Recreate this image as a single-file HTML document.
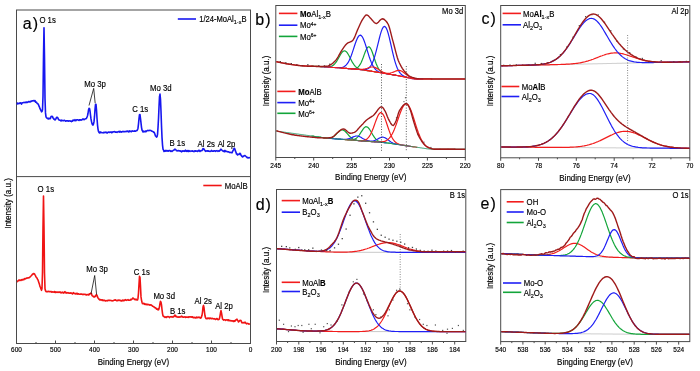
<!DOCTYPE html>
<html><head><meta charset="utf-8"><style>
html,body{margin:0;padding:0;background:#fff;}
svg{display:block;}
text{font-family:"Liberation Sans", sans-serif;fill:#000;stroke:#000;stroke-width:0.15px;}
svg{will-change:transform;}
path{fill:none;stroke-linejoin:round;}
</style></head><body>
<svg width="700" height="371" viewBox="0 0 700 371">
<rect width="700" height="371" fill="#fff"/>
<rect x="16.5" y="10" width="234" height="333.5" fill="none" stroke="#4a4a4a" stroke-width="1"/>
<path d="M16.5,176.6 L250.5,176.6" stroke="#4a4a4a" stroke-width="1" />
<path d="M16.5,343.5 L16.5,340.5" stroke="#4a4a4a" stroke-width="1" />
<text transform="translate(16.5,351.8) scale(1,1.1)" font-size="6.5" text-anchor="middle" >600</text>
<path d="M55.5,343.5 L55.5,340.5" stroke="#4a4a4a" stroke-width="1" />
<text transform="translate(55.5,351.8) scale(1,1.1)" font-size="6.5" text-anchor="middle" >500</text>
<path d="M94.5,343.5 L94.5,340.5" stroke="#4a4a4a" stroke-width="1" />
<text transform="translate(94.5,351.8) scale(1,1.1)" font-size="6.5" text-anchor="middle" >400</text>
<path d="M133.5,343.5 L133.5,340.5" stroke="#4a4a4a" stroke-width="1" />
<text transform="translate(133.5,351.8) scale(1,1.1)" font-size="6.5" text-anchor="middle" >300</text>
<path d="M172.5,343.5 L172.5,340.5" stroke="#4a4a4a" stroke-width="1" />
<text transform="translate(172.5,351.8) scale(1,1.1)" font-size="6.5" text-anchor="middle" >200</text>
<path d="M211.5,343.5 L211.5,340.5" stroke="#4a4a4a" stroke-width="1" />
<text transform="translate(211.5,351.8) scale(1,1.1)" font-size="6.5" text-anchor="middle" >100</text>
<path d="M250.5,343.5 L250.5,340.5" stroke="#4a4a4a" stroke-width="1" />
<text transform="translate(250.5,351.8) scale(1,1.1)" font-size="6.5" text-anchor="middle" >0</text>
<path d="M36,343.5 L36,342" stroke="#4a4a4a" stroke-width="1" />
<path d="M75,343.5 L75,342" stroke="#4a4a4a" stroke-width="1" />
<path d="M114,343.5 L114,342" stroke="#4a4a4a" stroke-width="1" />
<path d="M153,343.5 L153,342" stroke="#4a4a4a" stroke-width="1" />
<path d="M192,343.5 L192,342" stroke="#4a4a4a" stroke-width="1" />
<path d="M231,343.5 L231,342" stroke="#4a4a4a" stroke-width="1" />
<text transform="translate(133.5,365.2) scale(1,1.1)" font-size="8" text-anchor="middle" >Binding Energy (eV)</text>
<text font-size="8" text-anchor="middle" transform="translate(10.5,203.5) rotate(-90) scale(1,1.1)">Intensity (a.u.)</text>
<text x="22.8" y="28.8" font-size="16" letter-spacing="1" stroke-width="0">a)</text>
<path d="M17,104.5 17.5,103.1 18,103.9 18.5,103.5 19,103.4 19.5,103.4 20,102.8 20.5,103.2 21,102.9 21.5,104.1 22,103.1 22.5,102.8 23,102.8 23.5,102.6 24,102.4 24.5,102.5 25,102.6 25.5,102.3 26,102.6 26.5,102.1 27,102.1 27.5,102.5 28,102.1 28.5,101.6 29,101.6 29.5,101.8 30,102.1 30.5,101.3 31,101.2 31.5,101.4 32,100.7 32.5,100.8 33,101 33.5,100.8 34,100.5 34.5,101.1 35,100.5 35.5,102.1 36,102 36.5,102.2 37,103.2 37.5,103.8 38,103.9 38.5,104.7 39,106.2 39.5,107.2 40,108.7 40.5,109.6 41,110.5 41.5,111.8 42,111.6 42.5,109.8 43,96.3 43.5,56.5 44,27.7 44.5,57.3 45,98.6 45.5,112.9 46,116.8 46.5,117.7 47,118 47.5,118.6 48,118.4 48.5,119 49,118.2 49.5,118.5 50,118.8 50.5,118.4 51,116.6 51.5,116.4 52,116.4 52.5,116.5 53,118.1 53.5,118.2 54,119.3 54.5,119.2 55,120 55.5,119.4 56,118.7 56.5,117.4 57,117.7 57.5,117.4 58,118.2 58.5,119.4 59,119.9 59.5,120.1 60,120.2 60.5,120.3 61,121 61.5,120.1 62,120.4 62.5,120.5 63,120.7 63.5,120.8 64,120.3 64.5,120.2 65,120.7 65.5,121.1 66,121 66.5,120.9 67,120.8 67.5,121 68,120.8 68.5,121.2 69,120.7 69.5,121 70,121 70.5,121.1 71,120.9 71.5,121.6 72,121.2 72.5,121.1 73,120 73.5,120.5 74,120.3 74.5,120.6 75,119.7 75.5,120.7 76,120.6 76.5,119.8 77,119.8 77.5,119.8 78,120 78.5,120.1 79,120.5 79.5,119.8 80,120 80.5,119.7 81,120.2 81.5,119.8 82,119.9 82.5,119.1 83,119.3 83.5,119.1 84,119.7 84.5,119.4 85,119 85.5,118.8 86,118.8 86.5,118.2 87,117.1 87.5,115.7 88,113.5 88.5,110.1 89,108.4 89.5,108.5 90,110.9 90.5,115.1 91,118.9 91.5,121.6 92,123.6 92.5,124.7 93,125.1 93.5,124 94,121.7 94.5,116.7 95,109.6 95.5,104.5 96,104.3 96.5,110 97,118.3 97.5,124.8 98,129.1 98.5,131.5 99,132.5 99.5,133 100,131.8 100.5,132.7 101,132.3 101.5,132.5 102,132.7 102.5,132.7 103,132.7 103.5,132.4 104,132.8 104.5,132.2 105,132.3 105.5,132.5 106,132.1 106.5,132.9 107,132.5 107.5,132.9 108,132.2 108.5,132.1 109,132.2 109.5,132.4 110,132 110.5,132.2 111,132.1 111.5,132.6 112,131.9 112.5,132.4 113,131.9 113.5,131.7 114,131.8 114.5,131.6 115,132 115.5,132.3 116,132 116.5,132.1 117,132.4 117.5,132 118,131.9 118.5,131.8 119,131.4 119.5,132.1 120,131.3 120.5,132 121,131.8 121.5,132.1 122,131.7 122.5,131.5 123,131.8 123.5,131.5 124,131.6 124.5,131.7 125,131.6 125.5,131.6 126,131.4 126.5,131.6 127,131 127.5,131.5 128,131.2 128.5,131.9 129,131.9 129.5,130.9 130,131.5 130.5,131.4 131,131.1 131.5,131.6 132,131.2 132.5,130.8 133,131.2 133.5,131.2 134,131.2 134.5,130.8 135,131.3 135.5,131.3 136,130.7 136.5,130.8 137,130.6 137.5,129.7 138,128.2 138.5,123.9 139,118.5 139.5,114.7 140,114.5 140.5,118.6 141,122.9 141.5,127.3 142,130 142.5,130.9 143,132 143.5,131.2 144,131.7 144.5,131.5 145,131.7 145.5,131 146,131.7 146.5,131 147,130.9 147.5,130.5 148,130.4 148.5,130.6 149,130.6 149.5,130.4 150,130.4 150.5,130.5 151,130.5 151.5,131 152,131.2 152.5,131.2 153,131.7 153.5,132.1 154,132.1 154.5,133.1 155,134.5 155.5,136 156,136.4 156.5,137.1 157,136.7 157.5,134.6 158,127.8 158.5,118.7 159,107.1 159.5,96.6 160,94.1 160.5,99.4 161,111.3 161.5,125.8 162,137.4 162.5,144.8 163,149.2 163.5,150 164,151.4 164.5,150.9 165,151.3 165.5,151 166,150.3 166.5,150.8 167,151.1 167.5,150.7 168,150.6 168.5,151.1 169,150.8 169.5,150.5 170,150.8 170.5,151.3 171,150.9 171.5,151.3 172,151.5 172.5,151 173,150.6 173.5,150.3 174,150.1 174.5,149.6 175,149.1 175.5,149.5 176,150 176.5,150.7 177,150.8 177.5,150.9 178,150.6 178.5,150.5 179,150.9 179.5,150.7 180,150.7 180.5,151.2 181,151 181.5,151.9 182,151.3 182.5,150.8 183,151.2 183.5,151.1 184,150.8 184.5,151.3 185,150.8 185.5,150.1 186,151.2 186.5,150.8 187,151.4 187.5,150.8 188,150.6 188.5,151.5 189,150.7 189.5,151.1 190,151.4 190.5,151 191,151 191.5,151 192,151.3 192.5,150.8 193,151.2 193.5,151.2 194,151.7 194.5,150.9 195,150.7 195.5,151.2 196,150.9 196.5,151.1 197,151 197.5,151.4 198,150.8 198.5,151 199,150.2 199.5,150.7 200,151.5 200.5,150.8 201,150.8 201.5,150.5 202,150.7 202.5,149.9 203,148.6 203.5,148.7 204,149 204.5,150.1 205,150.4 205.5,151.4 206,151.1 206.5,151 207,150.8 207.5,150.9 208,151.3 208.5,150.9 209,151.3 209.5,151.2 210,151.4 210.5,151.2 211,151 211.5,150.4 212,151.1 212.5,151.2 213,151 213.5,151.2 214,150.9 214.5,150.9 215,150.7 215.5,151.4 216,151 216.5,150.9 217,150.6 217.5,151 218,151.4 218.5,151.1 219,150.7 219.5,151.1 220,150.5 220.5,149.6 221,149.2 221.5,149.7 222,150.2 222.5,150.9 223,150.7 223.5,151.4 224,151.1 224.5,151.6 225,150.4 225.5,151.3 226,151.5 226.5,151.3 227,151.6 227.5,151.8 228,151.9 228.5,151.7 229,152 229.5,152.4 230,152.6 230.5,152.4 231,152.5 231.5,152.6 232,152.8 232.5,151.7 233,150.7 233.5,149.9 234,148.4 234.5,148.3 235,149.5 235.5,151.2 236,152.3 236.5,153.9 237,153.8 237.5,154.9 238,154.4 238.5,154.4 239,154.5 239.5,153.6 240,153.3 240.5,153.9 241,155.2 241.5,155.9 242,156.4 242.5,156.9 243,156.4 243.5,156.4 244,155.9 244.5,155.8 245,155.5 245.5,156 246,156.4 246.5,157 247,157.6 247.5,157.4 248,157.9 248.5,157.9 249,157.6 249.5,157.8 250,157.9" stroke="#1717f0" stroke-width="1.6" />
<text transform="translate(47.6,22.7) scale(1,1.1)" font-size="7.8" text-anchor="middle" >O 1s</text>
<text transform="translate(95,86.7) scale(1,1.1)" font-size="7.8" text-anchor="middle" >Mo 3p</text>
<path d="M89,105.5 L93.7,88.4 L95.2,103.3" stroke="#111" stroke-width="0.8"/>
<text transform="translate(140.2,112.2) scale(1,1.1)" font-size="7.8" text-anchor="middle" >C 1s</text>
<text transform="translate(160.8,91.2) scale(1,1.1)" font-size="7.8" text-anchor="middle" >Mo 3d</text>
<text transform="translate(177.3,145.7) scale(1,1.1)" font-size="7.8" text-anchor="middle" >B 1s</text>
<text transform="translate(206.2,146.7) scale(1,1.1)" font-size="7.8" text-anchor="middle" >Al 2s</text>
<text transform="translate(226.5,147.4) scale(1,1.1)" font-size="7.8" text-anchor="middle" >Al 2p</text>
<path d="M177.8,19 L196,19" stroke="#1717f0" stroke-width="1.6" />
<text transform="translate(199.2,22.2) scale(1,1.1)" font-size="7.6" >1/24-MoAl<tspan font-size="5.5" dy="2">1-x</tspan><tspan dy="-2">B</tspan></text>
<path d="M17,281.4 17.5,281.6 18,280.7 18.5,280.6 19,279.9 19.5,280.5 20,280.4 20.5,280 21,280.4 21.5,279.6 22,279.9 22.5,279.9 23,279.3 23.5,279.7 24,279.6 24.5,278.7 25,278.5 25.5,278.9 26,278.6 26.5,278 27,278.1 27.5,278 28,277.8 28.5,277.9 29,277.6 29.5,277.6 30,277 30.5,276.4 31,276 31.5,275.6 32,275 32.5,274 33,274.2 33.5,273.5 34,273.5 34.5,273.9 35,274.9 35.5,275.7 36,277 36.5,277.4 37,278.2 37.5,279.2 38,279.9 38.5,281.5 39,283 39.5,284.6 40,286.6 40.5,287.4 41,289 41.5,290.3 42,288.5 42.5,272.2 43,227.9 43.5,196.1 44,228.4 44.5,272.9 45,288.7 45.5,290.8 46,291.5 46.5,291.8 47,291.6 47.5,291.6 48,291.7 48.5,291.3 49,291.5 49.5,291.6 50,291.8 50.5,291.7 51,291.4 51.5,292.1 52,292.3 52.5,291.8 53,292 53.5,292 54,292.2 54.5,291.5 55,292.5 55.5,291.9 56,292.5 56.5,292.1 57,292 57.5,292.1 58,292.5 58.5,292 59,292.2 59.5,292.2 60,291.8 60.5,292.8 61,292.6 61.5,292.4 62,292.8 62.5,292.2 63,292.5 63.5,293.1 64,292.9 64.5,292 65,291.7 65.5,292.4 66,293.1 66.5,292.6 67,292.7 67.5,293 68,292.6 68.5,293 69,293.2 69.5,293.1 70,293.1 70.5,292.9 71,293.3 71.5,293 72,293.6 72.5,294 73,293.1 73.5,292.7 74,293.3 74.5,293.6 75,293.8 75.5,293.9 76,293.4 76.5,293.4 77,294.1 77.5,293.4 78,294.1 78.5,293.8 79,294.1 79.5,294.2 80,294.2 80.5,294.3 81,293.8 81.5,294.2 82,294.2 82.5,294.3 83,294.7 83.5,294.3 84,294.2 84.5,294.2 85,294.4 85.5,294.8 86,294.4 86.5,295 87,294.8 87.5,294.7 88,294.4 88.5,294.9 89,294.9 89.5,293.8 90,294 90.5,293.6 91,293.1 91.5,293.8 92,295.4 92.5,296 93,296 93.5,296.7 94,296.9 94.5,297 95,296.1 95.5,296.3 96,295 96.5,294.8 97,295.3 97.5,296.9 98,297.9 98.5,298.5 99,299.3 99.5,299.8 100,299.4 100.5,300 101,299.8 101.5,299.7 102,300.4 102.5,299.8 103,300.5 103.5,300.2 104,300.6 104.5,300.2 105,300.4 105.5,301 106,300.7 106.5,300.7 107,300.5 107.5,300.8 108,300.2 108.5,300.3 109,300.5 109.5,300.3 110,300.3 110.5,300.5 111,300.5 111.5,300.5 112,301 112.5,300.8 113,300.8 113.5,300.5 114,300.3 114.5,300 115,300.3 115.5,299.8 116,300.2 116.5,300.6 117,300.9 117.5,300.6 118,300.1 118.5,300.5 119,300.1 119.5,300.5 120,300.2 120.5,300.5 121,301 121.5,300.5 122,300.9 122.5,300.3 123,300.1 123.5,300.6 124,300.7 124.5,300 125,300.2 125.5,299.7 126,300.1 126.5,300.4 127,300.1 127.5,299.9 128,299.6 128.5,300.2 129,300.3 129.5,300.2 130,300.1 130.5,299.4 131,300 131.5,299.2 132,299 132.5,299 133,297.9 133.5,298.7 134,298.8 134.5,299.2 135,299.7 135.5,299.6 136,299.1 136.5,299.7 137,300 137.5,300 138,298.2 138.5,293.1 139,284.4 139.5,276.4 140,277.6 140.5,286.6 141,296.9 141.5,300.1 142,302.3 142.5,303.6 143,303.2 143.5,303.6 144,303.4 144.5,304.4 145,303.9 145.5,304.4 146,304.5 146.5,304.2 147,304.8 147.5,304.2 148,304.4 148.5,304.7 149,304.6 149.5,305 150,305.2 150.5,304.9 151,304.8 151.5,305.2 152,305.6 152.5,306.2 153,306.3 153.5,306.8 154,307 154.5,307.1 155,307.9 155.5,307.7 156,308.3 156.5,309.1 157,308.7 157.5,309.6 158,309.6 158.5,309.9 159,308.6 159.5,306.6 160,303.4 160.5,301.3 161,302.1 161.5,304.9 162,309.5 162.5,313.3 163,315.8 163.5,316.4 164,316.4 164.5,317 165,317.5 165.5,317.1 166,316.8 166.5,317.5 167,316.9 167.5,316.8 168,316.6 168.5,316.7 169,316.9 169.5,317.6 170,316.9 170.5,316.7 171,316.8 171.5,316.9 172,316.5 172.5,317 173,317.1 173.5,316.8 174,316.5 174.5,315.4 175,315 175.5,316.2 176,316.6 176.5,316.3 177,317 177.5,317 178,317.2 178.5,317.1 179,316.8 179.5,317.1 180,317 180.5,317 181,316.4 181.5,316.1 182,316.8 182.5,316.5 183,317.1 183.5,317.2 184,317.1 184.5,316.9 185,317 185.5,317.4 186,316.8 186.5,317.3 187,317.2 187.5,317.1 188,317.4 188.5,316.8 189,317.3 189.5,316.7 190,316.8 190.5,316.7 191,317.2 191.5,316.8 192,317.2 192.5,316.8 193,317.5 193.5,317.8 194,317.3 194.5,317.8 195,317.5 195.5,318 196,317.4 196.5,317 197,317.9 197.5,317.5 198,317.2 198.5,317.4 199,317.1 199.5,317.6 200,317.4 200.5,318.2 201,317.9 201.5,316.8 202,315.3 202.5,312 203,307.1 203.5,305.4 204,307.7 204.5,312.1 205,315.8 205.5,317.7 206,318.5 206.5,318.7 207,318.3 207.5,318.6 208,318.1 208.5,318.5 209,318.1 209.5,318.7 210,318.1 210.5,318.3 211,318.6 211.5,318.8 212,318.3 212.5,318.6 213,318.8 213.5,318.9 214,318.6 214.5,319 215,318.9 215.5,319.5 216,319.3 216.5,318.8 217,318.5 217.5,319.3 218,319.7 218.5,319.4 219,319.5 219.5,318.4 220,315.8 220.5,312.8 221,310.6 221.5,312.9 222,316 222.5,318.9 223,319.5 223.5,320.1 224,319.7 224.5,319.8 225,319.8 225.5,320.4 226,320.1 226.5,319.9 227,319.9 227.5,319.9 228,320.7 228.5,319.8 229,320.1 229.5,320.6 230,320.9 230.5,320.5 231,320.8 231.5,320.9 232,321 232.5,320.8 233,321.3 233.5,320.9 234,321.4 234.5,320.6 235,321.2 235.5,320.4 236,319.7 236.5,319.6 237,319.2 237.5,320.4 238,320.8 238.5,322 239,321.5 239.5,320.7 240,320.4 240.5,320.4 241,320.6 241.5,321.9 242,322.9 242.5,322.8 243,322.6 243.5,322.5 244,323 244.5,322.5 245,322.1 245.5,323 246,323 246.5,323.9 247,323.6 247.5,323.4 248,323.5 248.5,324.1 249,323.9 249.5,324.1 250,324.4" stroke="#f01414" stroke-width="1.6" />
<text transform="translate(45.8,192.2) scale(1,1.1)" font-size="7.8" text-anchor="middle" >O 1s</text>
<text transform="translate(97,272.1) scale(1,1.1)" font-size="7.8" text-anchor="middle" >Mo 3p</text>
<path d="M91,294 L94.7,275.5 L96.6,294.6" stroke="#111" stroke-width="0.8"/>
<text transform="translate(141.8,274.7) scale(1,1.1)" font-size="7.8" text-anchor="middle" >C 1s</text>
<text transform="translate(164.2,299) scale(1,1.1)" font-size="7.8" text-anchor="middle" >Mo 3d</text>
<text transform="translate(177.7,313.6) scale(1,1.1)" font-size="7.8" text-anchor="middle" >B 1s</text>
<text transform="translate(203.2,304.4) scale(1,1.1)" font-size="7.8" text-anchor="middle" >Al 2s</text>
<text transform="translate(224,309.2) scale(1,1.1)" font-size="7.8" text-anchor="middle" >Al 2p</text>
<path d="M203.3,185.5 L221.7,185.5" stroke="#f01414" stroke-width="1.6" />
<text transform="translate(224.7,188.7) scale(1,1.1)" font-size="7.8" >MoAlB</text>
<rect x="275.8" y="5.5" width="189.5" height="152" fill="none" stroke="#4a4a4a" stroke-width="1"/>
<path d="M275.8,157.5 L275.8,160.5" stroke="#4a4a4a" stroke-width="1" />
<text transform="translate(275.8,167.6) scale(1,1.1)" font-size="6.5" text-anchor="middle" >245</text>
<path d="M313.7,157.5 L313.7,160.5" stroke="#4a4a4a" stroke-width="1" />
<text transform="translate(313.7,167.6) scale(1,1.1)" font-size="6.5" text-anchor="middle" >240</text>
<path d="M351.6,157.5 L351.6,160.5" stroke="#4a4a4a" stroke-width="1" />
<text transform="translate(351.6,167.6) scale(1,1.1)" font-size="6.5" text-anchor="middle" >235</text>
<path d="M389.5,157.5 L389.5,160.5" stroke="#4a4a4a" stroke-width="1" />
<text transform="translate(389.5,167.6) scale(1,1.1)" font-size="6.5" text-anchor="middle" >230</text>
<path d="M427.4,157.5 L427.4,160.5" stroke="#4a4a4a" stroke-width="1" />
<text transform="translate(427.4,167.6) scale(1,1.1)" font-size="6.5" text-anchor="middle" >225</text>
<path d="M465.3,157.5 L465.3,160.5" stroke="#4a4a4a" stroke-width="1" />
<text transform="translate(465.3,167.6) scale(1,1.1)" font-size="6.5" text-anchor="middle" >220</text>
<path d="M294.8,157.5 L294.8,159" stroke="#4a4a4a" stroke-width="1" />
<path d="M332.7,157.5 L332.7,159" stroke="#4a4a4a" stroke-width="1" />
<path d="M370.6,157.5 L370.6,159" stroke="#4a4a4a" stroke-width="1" />
<path d="M408.5,157.5 L408.5,159" stroke="#4a4a4a" stroke-width="1" />
<path d="M446.4,157.5 L446.4,159" stroke="#4a4a4a" stroke-width="1" />
<text transform="translate(370.8,179.9) scale(1,1.1)" font-size="8" text-anchor="middle" >Binding Energy (eV)</text>
<text font-size="8" text-anchor="middle" transform="translate(268.5,81) rotate(-90) scale(1,1.1)">Intensity (a.u.)</text>
<text x="255.3" y="24.6" font-size="16" letter-spacing="1" stroke-width="0">b)</text>
<text transform="translate(463.2,14.4) scale(1,1.1)" font-size="7.6" text-anchor="end" >Mo 3d</text>
<path d="M311.3,66.2 312.3,66.2 313.3,66.3 314.3,66.3 315.3,66.3 316.3,66.4 317.3,66.4 318.3,66.5 319.3,66.5 320.3,66.6 321.3,66.6 322.3,66.7 323.3,66.7 324.3,66.8 325.3,66.8 326.3,66.9 327.3,66.9 328.3,66.8 329.3,66.7 330.3,66.6 331.3,66.3 332.3,65.8 333.3,65.2 334.3,64.3 335.3,63.2 336.3,61.9 337.3,60.3 338.3,58.5 339.3,56.7 340.3,55 341.3,53.3 342.3,52 343.3,51.2 344.3,50.8 345.3,51 346.3,51.7 347.3,52.9 348.3,54.5 349.3,56.3 350.3,58.3 351.3,60.2 352.3,62.1 353.3,63.7 354.3,65.1 355.3,66.3 356.3,67.3 357.3,68 358.3,68.6 359.3,69 360.3,69.3 361.3,69.5 362.3,69.8 363.3,69.9 364.3,70.1 365.3,70.2 366.3,70.4 367.3,70.6 368.3,70.7 369.3,70.9 370.3,71 371.3,71.2 372.3,71.4 373.3,71.5 374.3,71.7 375.3,71.9 376.3,72 377.3,72.2" stroke="#13a53a" stroke-width="1.2" />
<path d="M339.3,67.9 340.3,68 341.3,68.1 342.3,68.1 343.3,68.2 344.3,68.3 345.3,68.3 346.3,68.4 347.3,68.5 348.3,68.6 349.3,68.6 350.3,68.7 351.3,68.8 352.3,68.8 353.3,68.8 354.3,68.7 355.3,68.5 356.3,68.2 357.3,67.7 358.3,66.9 359.3,65.7 360.3,64.2 361.3,62.2 362.3,59.8 363.3,57.2 364.3,54.4 365.3,51.7 366.3,49.4 367.3,47.8 368.3,46.9 369.3,46.9 370.3,48 371.3,49.8 372.3,52.3 373.3,55.2 374.3,58.3 375.3,61.3 376.3,64 377.3,66.3 378.3,68.3 379.3,69.8 380.3,70.9 381.3,71.7 382.3,72.3 383.3,72.8 384.3,73.1 385.3,73.4 386.3,73.6 387.3,73.8 388.3,74 389.3,74.2 390.3,74.3 391.3,74.5 392.3,74.7 393.3,74.8 394.3,75 395.3,75.2 396.3,75.4 397.3,75.5 398.3,75.7" stroke="#13a53a" stroke-width="1.2" />
<path d="M321.3,66.6 322.3,66.7 323.3,66.7 324.3,66.8 325.3,66.9 326.3,66.9 327.3,67 328.3,67.1 329.3,67.2 330.3,67.2 331.3,67.3 332.3,67.4 333.3,67.5 334.3,67.5 335.3,67.6 336.3,67.7 337.3,67.7 338.3,67.7 339.3,67.7 340.3,67.7 341.3,67.5 342.3,67.3 343.3,67 344.3,66.5 345.3,65.8 346.3,64.9 347.3,63.7 348.3,62.1 349.3,60.3 350.3,58 351.3,55.5 352.3,52.6 353.3,49.6 354.3,46.5 355.3,43.5 356.3,40.8 357.3,38.4 358.3,36.6 359.3,35.5 360.3,35.1 361.3,35.6 362.3,36.8 363.3,38.7 364.3,41.2 365.3,44.1 366.3,47.3 367.3,50.6 368.3,53.9 369.3,57 370.3,59.8 371.3,62.4 372.3,64.6 373.3,66.4 374.3,67.9 375.3,69.2 376.3,70.1 377.3,70.9 378.3,71.5 379.3,72 380.3,72.3 381.3,72.6 382.3,72.9 383.3,73.1 384.3,73.3 385.3,73.5 386.3,73.7 387.3,73.8 388.3,74 389.3,74.2 390.3,74.3 391.3,74.5 392.3,74.7 393.3,74.8 394.3,75 395.3,75.2 396.3,75.4 397.3,75.5 398.3,75.7 399.3,75.9" stroke="#1f1ff5" stroke-width="1.2" />
<path d="M345.3,68.3 346.3,68.4 347.3,68.5 348.3,68.6 349.3,68.6 350.3,68.7 351.3,68.8 352.3,68.9 353.3,69 354.3,69.1 355.3,69.1 356.3,69.2 357.3,69.3 358.3,69.4 359.3,69.5 360.3,69.6 361.3,69.7 362.3,69.7 363.3,69.7 364.3,69.7 365.3,69.6 366.3,69.4 367.3,69 368.3,68.5 369.3,67.7 370.3,66.5 371.3,65 372.3,63.1 373.3,60.7 374.3,57.8 375.3,54.4 376.3,50.7 377.3,46.7 378.3,42.6 379.3,38.5 380.3,34.7 381.3,31.4 382.3,28.8 383.3,27.1 384.3,26.4 385.3,26.8 386.3,28.2 387.3,30.6 388.3,33.8 389.3,37.7 390.3,42 391.3,46.4 392.3,50.9 393.3,55.1 394.3,59.1 395.3,62.6 396.3,65.6 397.3,68.2 398.3,70.3 399.3,71.9 400.3,73.3 401.3,74.3 402.3,75.2 403.3,75.8 404.3,76.4 405.3,76.8 406.3,77.1 407.3,77.5 408.3,77.7 409.3,78 410.3,78.2 411.3,78.4 412.3,78.6 413.3,78.7 414.3,78.8 415.3,78.9 416.3,79 417.3,79 418.3,79 419.3,79 420.3,79 421.3,79 422.3,79 423.3,79" stroke="#1f1ff5" stroke-width="1.2" />
<path d="M341.3,68.1 342.3,68.1 343.3,68.2 344.3,68.3 345.3,68.3 346.3,68.4 347.3,68.5 348.3,68.6 349.3,68.6 350.3,68.7 351.3,68.8 352.3,68.9 353.3,69 354.3,69 355.3,69.1 356.3,69.2 357.3,69.3 358.3,69.3 359.3,69.4 360.3,69.4 361.3,69.4 362.3,69.3 363.3,69.2 364.3,69 365.3,68.8 366.3,68.5 367.3,68.2 368.3,67.8 369.3,67.5 370.3,67.2 371.3,67 372.3,67 373.3,67 374.3,67.2 375.3,67.6 376.3,68.1 377.3,68.6 378.3,69.3 379.3,69.9 380.3,70.6 381.3,71.2 382.3,71.8 383.3,72.3 384.3,72.7 385.3,73.1 386.3,73.4 387.3,73.6 388.3,73.9 389.3,74.1 390.3,74.3 391.3,74.5 392.3,74.7 393.3,74.8 394.3,75 395.3,75.2 396.3,75.4 397.3,75.5 398.3,75.7 399.3,75.9 400.3,76.1 401.3,76.3 402.3,76.5 403.3,76.7 404.3,76.9 405.3,77.1 406.3,77.4" stroke="#f21d1d" stroke-width="1.2" />
<path d="M367.3,70.6 368.3,70.7 369.3,70.9 370.3,71 371.3,71.2 372.3,71.4 373.3,71.5 374.3,71.7 375.3,71.9 376.3,72 377.3,72.2 378.3,72.4 379.3,72.5 380.3,72.7 381.3,72.8 382.3,73 383.3,73.1 384.3,73.2 385.3,73.3 386.3,73.4 387.3,73.4 388.3,73.4 389.3,73.3 390.3,73.1 391.3,72.8 392.3,72.5 393.3,72.1 394.3,71.7 395.3,71.3 396.3,70.9 397.3,70.6 398.3,70.4 399.3,70.4 400.3,70.6 401.3,71 402.3,71.5 403.3,72.2 404.3,73 405.3,73.8 406.3,74.6 407.3,75.4 408.3,76.1 409.3,76.8 410.3,77.3 411.3,77.8 412.3,78.2 413.3,78.4 414.3,78.7 415.3,78.8 416.3,78.9 417.3,79 418.3,79 419.3,79 420.3,79 421.3,79 422.3,79 423.3,79 424.3,79 425.3,79 426.3,79 427.3,79 428.3,79 429.3,79 430.3,79 431.3,79 432.3,79" stroke="#f21d1d" stroke-width="1.2" />
<path d="M276.3,61.8 277.3,61.9 278.3,62.1 279.3,62.3 280.3,62.5 281.3,62.7 282.3,63 283.3,63.2 284.3,63.3 285.3,63.5 286.3,63.7 287.3,63.9 288.3,64 289.3,64.2 290.3,64.3 291.3,64.5 292.3,64.6 293.3,64.7 294.3,64.9 295.3,65 296.3,65.1 297.3,65.2 298.3,65.3 299.3,65.4 300.3,65.5 301.3,65.6 302.3,65.7 303.3,65.7 304.3,65.8 305.3,65.9 306.3,65.9 307.3,66 308.3,66 309.3,66.1 310.3,66.1 311.3,66.2 312.3,66.2 313.3,66.3 314.3,66.3 315.3,66.3 316.3,66.4 317.3,66.4 318.3,66.5 319.3,66.5 320.3,66.6 321.3,66.6 322.3,66.7 323.3,66.7 324.3,66.8 325.3,66.9 326.3,66.9 327.3,67 328.3,67.1 329.3,67.2 330.3,67.2 331.3,67.3 332.3,67.4 333.3,67.5 334.3,67.5 335.3,67.6 336.3,67.7 337.3,67.8 338.3,67.8 339.3,67.9 340.3,68 341.3,68.1 342.3,68.1 343.3,68.2 344.3,68.3 345.3,68.3 346.3,68.4 347.3,68.5 348.3,68.6 349.3,68.6 350.3,68.7 351.3,68.8 352.3,68.9 353.3,69 354.3,69.1 355.3,69.1 356.3,69.2 357.3,69.3 358.3,69.4 359.3,69.5 360.3,69.6 361.3,69.8 362.3,69.9 363.3,70 364.3,70.1 365.3,70.3 366.3,70.4 367.3,70.6 368.3,70.7 369.3,70.9 370.3,71 371.3,71.2 372.3,71.4 373.3,71.5 374.3,71.7 375.3,71.9 376.3,72 377.3,72.2 378.3,72.4 379.3,72.5 380.3,72.7 381.3,72.8 382.3,73 383.3,73.2 384.3,73.3 385.3,73.5 386.3,73.7 387.3,73.8 388.3,74 389.3,74.2 390.3,74.3 391.3,74.5 392.3,74.7 393.3,74.8 394.3,75 395.3,75.2 396.3,75.4 397.3,75.5 398.3,75.7 399.3,75.9 400.3,76.1 401.3,76.3 402.3,76.5 403.3,76.7 404.3,76.9 405.3,77.1 406.3,77.4 407.3,77.6 408.3,77.8 409.3,78 410.3,78.2 411.3,78.4 412.3,78.6 413.3,78.7 414.3,78.8 415.3,78.9 416.3,79 417.3,79 418.3,79 419.3,79 420.3,79 421.3,79 422.3,79 423.3,79 424.3,79 425.3,79 426.3,79 427.3,79 428.3,79 429.3,79 430.3,79 431.3,79 432.3,79 433.3,79 434.3,79 435.3,79 436.3,79 437.3,79 438.3,79 439.3,79 440.3,79 441.3,79 442.3,79 443.3,79 444.3,79 445.3,79 446.3,79 447.3,79 448.3,79 449.3,79 450.3,79 451.3,79 452.3,79 453.3,79 454.3,79 455.3,79 456.3,79 457.3,79 458.3,79 459.3,79 460.3,79 461.3,79 462.3,79 463.3,79 464.3,79 465.1,79" stroke="#f21d1d" stroke-width="1.2" />
<rect x="279.7" y="61.1" width="1.3" height="1.3" fill="#333" stroke="none"/>
<rect x="285.2" y="62.2" width="1.3" height="1.3" fill="#333" stroke="none"/>
<rect x="290.7" y="63.1" width="1.3" height="1.3" fill="#333" stroke="none"/>
<rect x="296.2" y="64.3" width="1.3" height="1.3" fill="#333" stroke="none"/>
<rect x="301.7" y="65" width="1.3" height="1.3" fill="#333" stroke="none"/>
<rect x="307.2" y="64.2" width="1.3" height="1.3" fill="#333" stroke="none"/>
<rect x="312.7" y="65.7" width="1.3" height="1.3" fill="#333" stroke="none"/>
<rect x="318.2" y="65.1" width="1.3" height="1.3" fill="#333" stroke="none"/>
<rect x="323.7" y="65.3" width="1.3" height="1.3" fill="#333" stroke="none"/>
<rect x="329.2" y="63.6" width="1.3" height="1.3" fill="#333" stroke="none"/>
<path d="M276.3,61.6 277.3,61.8 278.3,62.1 279.3,62.3 280.3,62.5 281.3,62.7 282.3,62.9 283.3,63.1 284.3,63.3 285.3,63.5 286.3,63.7 287.3,63.9 288.3,64 289.3,64.2 290.3,64.3 291.3,64.5 292.3,64.6 293.3,64.8 294.3,64.9 295.3,65.1 296.3,65.2 297.3,65.4 298.3,65.5 299.3,65.6 300.3,65.7 301.3,65.8 302.3,65.9 303.3,66 304.3,66 305.3,66.1 306.3,66.1 307.3,66.2 308.3,66.2 309.3,66.2 310.3,66.3 311.3,66.3 312.3,66.3 313.3,66.4 314.3,66.4 315.3,66.4 316.3,66.5 317.3,66.5 318.3,66.5 319.3,66.5 320.3,66.5 321.3,66.5 322.3,66.5 323.3,66.4 324.3,66.4 325.3,66.3 326.3,66.2 327.3,66.1 328.3,65.9 329.3,65.5 330.3,64.9 331.3,64.3 332.3,63.6 333.3,62.8 334.3,61.8 335.3,60.8 336.3,59.6 337.3,58.2 338.3,56.5 339.3,54.6 340.3,52.8 341.3,51.1 342.3,49.6 343.3,48.1 344.3,46.7 345.3,45.3 346.3,44.2 347.3,43.3 348.3,42.7 349.3,42.3 350.3,41.9 351.3,41.5 352.3,40.9 353.3,39.7 354.3,37.9 355.3,35.5 356.3,32.9 357.3,30.4 358.3,28.2 359.3,26 360.3,23.8 361.3,21.7 362.3,19.9 363.3,18.4 364.3,16.9 365.3,15.6 366.3,14.9 367.3,15.1 368.3,15.8 369.3,16.9 370.3,18.1 371.3,19.1 372.3,20.2 373.3,21.4 374.3,22.5 375.3,23.2 376.3,23.5 377.3,23.1 378.3,22.2 379.3,21.1 380.3,20.1 381.3,19.2 382.3,18.8 383.3,19 384.3,19.5 385.3,20.4 386.3,21.5 387.3,22.8 388.3,24.5 389.3,27.3 390.3,30.9 391.3,34.9 392.3,38.8 393.3,42.4 394.3,46.2 395.3,50.1 396.3,53.9 397.3,57.5 398.3,60.5 399.3,62.8 400.3,64.8 401.3,66.7 402.3,68.3 403.3,69.8 404.3,71.1 405.3,72.2 406.3,73.3 407.3,74.3 408.3,75.2 409.3,76 410.3,76.6 411.3,77 412.3,77.4 413.3,77.7 414.3,78 415.3,78.3 416.3,78.5 417.3,78.7 418.3,78.8 419.3,78.9 420.3,78.9 421.3,78.9 422.3,78.9 423.3,78.9 424.3,78.9 425.3,78.9 426.3,78.9 427.3,78.9 428.3,78.9 429.3,78.9 430.3,78.9 431.3,79 432.3,79 433.3,79 434.3,79 435.3,79 436.3,79 437.3,79 438.3,79 439.3,79 440.3,79 441.3,79 442.3,79 443.3,79 444.3,79 445.3,79 446.3,79 447.3,79 448.3,79 449.3,79 450.3,79 451.3,79 452.3,79 453.3,79 454.3,79 455.3,79 456.3,79 457.3,79 458.3,79 459.3,79 460.3,79 461.3,79 462.3,79 463.3,79 464.3,79 465.1,79" stroke="#9e1a1a" stroke-width="1.4" />
<path d="M311.3,136 312.3,136.1 313.3,136.2 314.3,136.4 315.3,136.5 316.3,136.7 317.3,136.8 318.3,136.9 319.3,137.1 320.3,137.2 321.3,137.4 322.3,137.5 323.3,137.6 324.3,137.8 325.3,137.9 326.3,138 327.3,138 328.3,138 329.3,138 330.3,137.8 331.3,137.6 332.3,137.2 333.3,136.6 334.3,136 335.3,135.1 336.3,134.2 337.3,133.1 338.3,132.1 339.3,131.2 340.3,130.5 341.3,130 342.3,129.9 343.3,130.1 344.3,130.6 345.3,131.5 346.3,132.5 347.3,133.7 348.3,134.8 349.3,136 350.3,137 351.3,137.9 352.3,138.6 353.3,139.2 354.3,139.6 355.3,139.9 356.3,140.2 357.3,140.4 358.3,140.5 359.3,140.6 360.3,140.7 361.3,140.8 362.3,140.9 363.3,141 364.3,141 365.3,141.1 366.3,141.2 367.3,141.3 368.3,141.3 369.3,141.4 370.3,141.5 371.3,141.6 372.3,141.6 373.3,141.7" stroke="#13a53a" stroke-width="1.2" />
<path d="M335.3,138.9 336.3,138.9 337.3,139 338.3,139.1 339.3,139.2 340.3,139.2 341.3,139.3 342.3,139.4 343.3,139.5 344.3,139.5 345.3,139.6 346.3,139.7 347.3,139.7 348.3,139.8 349.3,139.8 350.3,139.9 351.3,139.8 352.3,139.8 353.3,139.6 354.3,139.3 355.3,138.9 356.3,138.2 357.3,137.4 358.3,136.3 359.3,135 360.3,133.4 361.3,131.8 362.3,130.3 363.3,128.8 364.3,127.7 365.3,126.9 366.3,126.7 367.3,127 368.3,127.8 369.3,129 370.3,130.5 371.3,132.3 372.3,134 373.3,135.7 374.3,137.2 375.3,138.5 376.3,139.6 377.3,140.4 378.3,141 379.3,141.5 380.3,141.8 381.3,142.1 382.3,142.3 383.3,142.4 384.3,142.6 385.3,142.7 386.3,142.8 387.3,143 388.3,143.1 389.3,143.2 390.3,143.4 391.3,143.5 392.3,143.7 393.3,143.8 394.3,144 395.3,144.1 396.3,144.3 397.3,144.4" stroke="#13a53a" stroke-width="1.2" />
<path d="M328.3,138.3 329.3,138.4 330.3,138.5 331.3,138.5 332.3,138.6 333.3,138.7 334.3,138.8 335.3,138.9 336.3,138.9 337.3,139 338.3,139.1 339.3,139.1 340.3,139.2 341.3,139.3 342.3,139.3 343.3,139.4 344.3,139.4 345.3,139.4 346.3,139.3 347.3,139.1 348.3,138.9 349.3,138.7 350.3,138.3 351.3,137.9 352.3,137.4 353.3,136.9 354.3,136.5 355.3,136.2 356.3,136 357.3,136 358.3,136.2 359.3,136.5 360.3,137 361.3,137.5 362.3,138.2 363.3,138.8 364.3,139.3 365.3,139.9 366.3,140.3 367.3,140.7 368.3,140.9 369.3,141.2 370.3,141.3 371.3,141.5 372.3,141.6 373.3,141.7 374.3,141.8 375.3,141.9 376.3,141.9 377.3,142 378.3,142.1 379.3,142.2 380.3,142.2 381.3,142.3 382.3,142.4 383.3,142.5 384.3,142.6 385.3,142.7 386.3,142.8" stroke="#1f1ff5" stroke-width="1.2" />
<path d="M353.3,140.2 354.3,140.3 355.3,140.4 356.3,140.4 357.3,140.5 358.3,140.6 359.3,140.7 360.3,140.7 361.3,140.8 362.3,140.9 363.3,141 364.3,141 365.3,141.1 366.3,141.2 367.3,141.2 368.3,141.3 369.3,141.3 370.3,141.3 371.3,141.2 372.3,141.1 373.3,140.9 374.3,140.6 375.3,140.2 376.3,139.8 377.3,139.3 378.3,138.7 379.3,138.1 380.3,137.7 381.3,137.3 382.3,137.2 383.3,137.2 384.3,137.5 385.3,137.9 386.3,138.6 387.3,139.3 388.3,140.1 389.3,140.8 390.3,141.6 391.3,142.2 392.3,142.7 393.3,143.2 394.3,143.6 395.3,143.9 396.3,144.1 397.3,144.3 398.3,144.5 399.3,144.7 400.3,144.8 401.3,145 402.3,145.1 403.3,145.3 404.3,145.4 405.3,145.6 406.3,145.7 407.3,145.9 408.3,146 409.3,146.2 410.3,146.3 411.3,146.5 412.3,146.6" stroke="#1f1ff5" stroke-width="1.2" />
<path d="M344.3,139.5 345.3,139.6 346.3,139.7 347.3,139.8 348.3,139.8 349.3,139.9 350.3,140 351.3,140.1 352.3,140.1 353.3,140.2 354.3,140.3 355.3,140.4 356.3,140.4 357.3,140.5 358.3,140.5 359.3,140.6 360.3,140.6 361.3,140.6 362.3,140.6 363.3,140.5 364.3,140.2 365.3,139.9 366.3,139.4 367.3,138.7 368.3,137.7 369.3,136.4 370.3,134.8 371.3,132.8 372.3,130.5 373.3,128 374.3,125.2 375.3,122.4 376.3,119.7 377.3,117.2 378.3,115.1 379.3,113.6 380.3,112.7 381.3,112.7 382.3,113.4 383.3,114.8 384.3,116.8 385.3,119.4 386.3,122.2 387.3,125.2 388.3,128.2 389.3,131.1 390.3,133.7 391.3,136.1 392.3,138 393.3,139.7 394.3,141 395.3,142 396.3,142.8 397.3,143.5 398.3,143.9 399.3,144.3 400.3,144.6 401.3,144.9 402.3,145.1 403.3,145.2 404.3,145.4 405.3,145.6 406.3,145.7 407.3,145.9 408.3,146 409.3,146.2 410.3,146.3 411.3,146.5 412.3,146.6 413.3,146.8 414.3,146.9 415.3,147 416.3,147.2 417.3,147.3" stroke="#f21d1d" stroke-width="1.2" />
<path d="M357.3,140.5 358.3,140.6 359.3,140.7 360.3,140.7 361.3,140.8 362.3,140.9 363.3,141 364.3,141 365.3,141.1 366.3,141.2 367.3,141.3 368.3,141.3 369.3,141.4 370.3,141.5 371.3,141.6 372.3,141.6 373.3,141.7 374.3,141.8 375.3,141.8 376.3,141.9 377.3,141.9 378.3,142 379.3,142 380.3,141.9 381.3,141.9 382.3,141.8 383.3,141.6 384.3,141.4 385.3,141.1 386.3,140.6 387.3,140 388.3,139.2 389.3,138.2 390.3,137 391.3,135.5 392.3,133.7 393.3,131.7 394.3,129.5 395.3,126.9 396.3,124.2 397.3,121.4 398.3,118.5 399.3,115.6 400.3,112.8 401.3,110.2 402.3,108 403.3,106.1 404.3,104.8 405.3,103.9 406.3,103.7 407.3,104.1 408.3,105.1 409.3,106.7 410.3,108.7 411.3,111.2 412.3,114 413.3,117 414.3,120.2 415.3,123.4 416.3,126.6 417.3,129.6 418.3,132.5 419.3,135.1 420.3,137.4 421.3,139.5 422.3,141.4 423.3,142.9 424.3,144.3 425.3,145.4 426.3,146.3 427.3,147 428.3,147.6 429.3,148 430.3,148.4 431.3,148.7 432.3,148.8 433.3,149 434.3,149.1 435.3,149.1 436.3,149.1 437.3,149.2 438.3,149.2 439.3,149.2 440.3,149.2 441.3,149.2 442.3,149.2 443.3,149.2 444.3,149.2 445.3,149.2 446.3,149.2 447.3,149.2 448.3,149.2 449.3,149.2 450.3,149.2 451.3,149.2 452.3,149.2 453.3,149.2 454.3,149.2 455.3,149.2" stroke="#f21d1d" stroke-width="1.2" />
<path d="M276.3,131.2 277.3,131.3 278.3,131.4 279.3,131.5 280.3,131.6 281.3,131.8 282.3,131.9 283.3,132 284.3,132.2 285.3,132.3 286.3,132.5 287.3,132.6 288.3,132.7 289.3,132.9 290.3,133 291.3,133.2 292.3,133.3 293.3,133.4 294.3,133.6 295.3,133.7 296.3,133.9 297.3,134 298.3,134.1 299.3,134.3 300.3,134.4 301.3,134.6 302.3,134.7 303.3,134.8 304.3,135 305.3,135.1 306.3,135.3 307.3,135.4 308.3,135.5 309.3,135.7 310.3,135.8 311.3,136 312.3,136.1 313.3,136.2 314.3,136.4 315.3,136.5 316.3,136.7 317.3,136.8 318.3,136.9 319.3,137.1 320.3,137.2 321.3,137.4 322.3,137.5 323.3,137.6 324.3,137.8 325.3,137.9 326.3,138 327.3,138.2 328.3,138.3 329.3,138.4 330.3,138.5 331.3,138.5 332.3,138.6 333.3,138.7 334.3,138.8 335.3,138.9 336.3,138.9 337.3,139 338.3,139.1 339.3,139.2 340.3,139.2 341.3,139.3 342.3,139.4 343.3,139.5 344.3,139.5 345.3,139.6 346.3,139.7 347.3,139.8 348.3,139.8 349.3,139.9 350.3,140 351.3,140.1 352.3,140.1 353.3,140.2 354.3,140.3 355.3,140.4 356.3,140.4 357.3,140.5 358.3,140.6 359.3,140.7 360.3,140.7 361.3,140.8 362.3,140.9 363.3,141 364.3,141 365.3,141.1 366.3,141.2 367.3,141.3 368.3,141.3 369.3,141.4 370.3,141.5 371.3,141.6 372.3,141.6 373.3,141.7 374.3,141.8 375.3,141.9 376.3,141.9 377.3,142 378.3,142.1 379.3,142.2 380.3,142.2 381.3,142.3 382.3,142.4 383.3,142.5 384.3,142.6 385.3,142.7 386.3,142.8 387.3,143 388.3,143.1 389.3,143.2 390.3,143.4 391.3,143.5 392.3,143.7 393.3,143.8 394.3,144 395.3,144.1 396.3,144.3 397.3,144.4 398.3,144.6 399.3,144.7 400.3,144.8 401.3,145 402.3,145.1 403.3,145.3 404.3,145.4 405.3,145.6 406.3,145.7 407.3,145.9 408.3,146 409.3,146.2 410.3,146.3 411.3,146.5 412.3,146.6 413.3,146.8 414.3,146.9 415.3,147 416.3,147.2 417.3,147.3 418.3,147.5 419.3,147.6 420.3,147.8 421.3,147.9 422.3,148.1 423.3,148.2 424.3,148.4 425.3,148.5 426.3,148.7 427.3,148.8 428.3,148.9 429.3,149 430.3,149.1 431.3,149.1 432.3,149.2 433.3,149.2 434.3,149.2 435.3,149.2 436.3,149.2 437.3,149.2 438.3,149.2 439.3,149.2 440.3,149.2 441.3,149.2 442.3,149.2 443.3,149.2 444.3,149.2 445.3,149.2 446.3,149.2 447.3,149.2 448.3,149.2 449.3,149.2 450.3,149.2 451.3,149.2 452.3,149.2 453.3,149.2 454.3,149.2 455.3,149.2 456.3,149.2 457.3,149.2 458.3,149.2 459.3,149.2 460.3,149.2 461.3,149.2 462.3,149.2 463.3,149.2 464.3,149.2 465.1,149.2" stroke="#2a9a6a" stroke-width="1.0" />
<rect x="390.4" y="123.1" width="1.1" height="1.1" fill="#555" stroke="none"/>
<rect x="395.9" y="117.2" width="1.1" height="1.1" fill="#555" stroke="none"/>
<rect x="403.4" y="101.1" width="1.1" height="1.1" fill="#555" stroke="none"/>
<rect x="404.9" y="97.2" width="1.1" height="1.1" fill="#555" stroke="none"/>
<rect x="408.9" y="108.4" width="1.1" height="1.1" fill="#555" stroke="none"/>
<rect x="412.4" y="117.8" width="1.1" height="1.1" fill="#555" stroke="none"/>
<rect x="417.4" y="134" width="1.1" height="1.1" fill="#555" stroke="none"/>
<rect x="423.4" y="141.6" width="1.1" height="1.1" fill="#555" stroke="none"/>
<rect x="430.4" y="146.9" width="1.1" height="1.1" fill="#555" stroke="none"/>
<rect x="439.4" y="148.8" width="1.1" height="1.1" fill="#555" stroke="none"/>
<rect x="447.4" y="148.8" width="1.1" height="1.1" fill="#555" stroke="none"/>
<rect x="454.4" y="148.8" width="1.1" height="1.1" fill="#555" stroke="none"/>
<path d="M276.3,130.7 277.3,131 278.3,131.3 279.3,131.6 280.3,131.8 281.3,132.1 282.3,132.4 283.3,132.6 284.3,132.9 285.3,133.1 286.3,133.4 287.3,133.6 288.3,133.8 289.3,134 290.3,134.3 291.3,134.5 292.3,134.7 293.3,134.8 294.3,135 295.3,135.2 296.3,135.3 297.3,135.5 298.3,135.6 299.3,135.7 300.3,135.9 301.3,136 302.3,136.1 303.3,136.2 304.3,136.4 305.3,136.5 306.3,136.6 307.3,136.7 308.3,136.8 309.3,136.9 310.3,137 311.3,137.1 312.3,137.2 313.3,137.3 314.3,137.4 315.3,137.5 316.3,137.6 317.3,137.7 318.3,137.7 319.3,137.8 320.3,137.8 321.3,137.9 322.3,137.9 323.3,138 324.3,138 325.3,138 326.3,138 327.3,138 328.3,137.9 329.3,137.8 330.3,137.7 331.3,137.5 332.3,137.3 333.3,136.7 334.3,135.8 335.3,134.7 336.3,133.6 337.3,132.8 338.3,131.9 339.3,131.1 340.3,130.3 341.3,129.6 342.3,129.1 343.3,128.9 344.3,129.1 345.3,129.7 346.3,130.5 347.3,131.5 348.3,132.3 349.3,133 350.3,133.2 351.3,133.1 352.3,133 353.3,132.7 354.3,132.4 355.3,131.8 356.3,130.9 357.3,129.9 358.3,128.7 359.3,127.6 360.3,126.5 361.3,125.5 362.3,124.4 363.3,123.4 364.3,122.3 365.3,121.3 366.3,120.3 367.3,119.5 368.3,118.7 369.3,118.1 370.3,117.4 371.3,116.8 372.3,116.2 373.3,115.5 374.3,114.5 375.3,113.3 376.3,112 377.3,110.6 378.3,109.2 379.3,108.1 380.3,107.2 381.3,106.8 382.3,107.1 383.3,108.2 384.3,109.8 385.3,111.5 386.3,113.8 387.3,116.5 388.3,118.8 389.3,120.7 390.3,122.5 391.3,124.1 392.3,125.2 393.3,125.5 394.3,124.4 395.3,122.5 396.3,120.3 397.3,117.2 398.3,113.6 399.3,110.9 400.3,109.3 401.3,107.8 402.3,106.4 403.3,105.3 404.3,104.4 405.3,103.8 406.3,103.6 407.3,104.1 408.3,105.5 409.3,107.5 410.3,109.7 411.3,113 412.3,116.9 413.3,120.3 414.3,123.6 415.3,126.8 416.3,129.9 417.3,132.8 418.3,135.2 419.3,137.1 420.3,138.9 421.3,140.5 422.3,142 423.3,143.3 424.3,144.5 425.3,145.5 426.3,146.3 427.3,146.9 428.3,147.3 429.3,147.8 430.3,148.2 431.3,148.6 432.3,148.9 433.3,149.1 434.3,149.3 435.3,149.3 436.3,149.3 437.3,149.3 438.3,149.3 439.3,149.3 440.3,149.3 441.3,149.3 442.3,149.3 443.3,149.3 444.3,149.3 445.3,149.3 446.3,149.3 447.3,149.3 448.3,149.3 449.3,149.3 450.3,149.3 451.3,149.3 452.3,149.3 453.3,149.3 454.3,149.3 455.3,149.3 456.3,149.3 457.3,149.3 458.3,149.3 459.3,149.3 460.3,149.3 461.3,149.3 462.3,149.3 463.3,149.3 464.3,149.3 465.1,149.3" stroke="#9e1a1a" stroke-width="1.4" />
<path d="M381.5,64 L381.5,151.5" stroke="#333" stroke-width="0.8" stroke-dasharray="1,1.6"/>
<path d="M406.3,66 L406.3,151.5" stroke="#333" stroke-width="0.8" stroke-dasharray="1,1.6"/>
<path d="M278.9,13.4 L297.4,13.4" stroke="#f21d1d" stroke-width="1.6" />
<text transform="translate(300,16.6) scale(1,1.1)" font-size="7.8" ><tspan font-weight="bold">Mo</tspan>Al<tspan font-size="5.5" dy="2">1-x</tspan><tspan dy="-2">B</tspan></text>
<path d="M278.9,25.2 L297.4,25.2" stroke="#1f1ff5" stroke-width="1.6" />
<text transform="translate(300,28.4) scale(1,1.1)" font-size="7.8" >Mo<tspan font-size="5" dy="-2.6">4+</tspan></text>
<path d="M278.9,36.4 L297.4,36.4" stroke="#13a53a" stroke-width="1.6" />
<text transform="translate(300,39.6) scale(1,1.1)" font-size="7.8" >Mo<tspan font-size="5" dy="-2.6">6+</tspan></text>
<path d="M277.3,91.4 L295.5,91.4" stroke="#f21d1d" stroke-width="1.6" />
<text transform="translate(298.2,94.6) scale(1,1.1)" font-size="7.8" ><tspan font-weight="bold">Mo</tspan>AlB</text>
<path d="M277.3,102.6 L295.5,102.6" stroke="#1f1ff5" stroke-width="1.6" />
<text transform="translate(298.2,105.8) scale(1,1.1)" font-size="7.8" >Mo<tspan font-size="5" dy="-2.6">4+</tspan></text>
<path d="M277.3,113.3 L295.5,113.3" stroke="#13a53a" stroke-width="1.6" />
<text transform="translate(298.2,116.5) scale(1,1.1)" font-size="7.8" >Mo<tspan font-size="5" dy="-2.6">6+</tspan></text>
<rect x="500.7" y="5.5" width="189.1" height="152.3" fill="none" stroke="#4a4a4a" stroke-width="1"/>
<path d="M500.7,157.8 L500.7,160.8" stroke="#4a4a4a" stroke-width="1" />
<text transform="translate(500.7,167.6) scale(1,1.1)" font-size="6.5" text-anchor="middle" >80</text>
<path d="M538.5,157.8 L538.5,160.8" stroke="#4a4a4a" stroke-width="1" />
<text transform="translate(538.5,167.6) scale(1,1.1)" font-size="6.5" text-anchor="middle" >78</text>
<path d="M576.3,157.8 L576.3,160.8" stroke="#4a4a4a" stroke-width="1" />
<text transform="translate(576.3,167.6) scale(1,1.1)" font-size="6.5" text-anchor="middle" >76</text>
<path d="M614.2,157.8 L614.2,160.8" stroke="#4a4a4a" stroke-width="1" />
<text transform="translate(614.2,167.6) scale(1,1.1)" font-size="6.5" text-anchor="middle" >74</text>
<path d="M652,157.8 L652,160.8" stroke="#4a4a4a" stroke-width="1" />
<text transform="translate(652,167.6) scale(1,1.1)" font-size="6.5" text-anchor="middle" >72</text>
<path d="M689.8,157.8 L689.8,160.8" stroke="#4a4a4a" stroke-width="1" />
<text transform="translate(689.8,167.6) scale(1,1.1)" font-size="6.5" text-anchor="middle" >70</text>
<path d="M519.6,157.8 L519.6,159.3" stroke="#4a4a4a" stroke-width="1" />
<path d="M557.4,157.8 L557.4,159.3" stroke="#4a4a4a" stroke-width="1" />
<path d="M595.2,157.8 L595.2,159.3" stroke="#4a4a4a" stroke-width="1" />
<path d="M633.1,157.8 L633.1,159.3" stroke="#4a4a4a" stroke-width="1" />
<path d="M670.9,157.8 L670.9,159.3" stroke="#4a4a4a" stroke-width="1" />
<text transform="translate(595,180.9) scale(1,1.1)" font-size="8" text-anchor="middle" >Binding Energy (eV)</text>
<text font-size="8" text-anchor="middle" transform="translate(492.5,81) rotate(-90) scale(1,1.1)">Intensity (a.u.)</text>
<text x="481.6" y="24.4" font-size="16" letter-spacing="1" stroke-width="0">c)</text>
<text transform="translate(688.8,14.4) scale(1,1.1)" font-size="7.6" text-anchor="end" >Al 2p</text>
<path d="M501.2,65.8 502.2,65.8 503.2,65.7 504.2,65.7 505.2,65.7 506.2,65.7 507.2,65.7 508.2,65.6 509.2,65.6 510.2,65.6 511.2,65.6 512.2,65.6 513.2,65.5 514.2,65.5 515.2,65.5 516.2,65.5 517.2,65.5 518.2,65.4 519.2,65.4 520.2,65.4 521.2,65.4 522.2,65.3 523.2,65.3 524.2,65.3 525.2,65.3 526.2,65.3 527.2,65.2 528.2,65.2 529.2,65.2 530.2,65.2 531.2,65.2 532.2,65.1 533.2,65.1 534.2,65.1 535.2,65.1 536.2,65 537.2,65 538.2,65 539.2,65 540.2,65 541.2,64.9 542.2,64.9 543.2,64.9 544.2,64.9 545.2,64.9 546.2,64.8 547.2,64.8 548.2,64.8 549.2,64.8 550.2,64.8 551.2,64.7 552.2,64.7 553.2,64.7 554.2,64.7 555.2,64.6 556.2,64.6 557.2,64.6 558.2,64.6 559.2,64.6 560.2,64.5 561.2,64.5 562.2,64.5 563.2,64.5 564.2,64.5 565.2,64.4 566.2,64.4 567.2,64.4 568.2,64.4 569.2,64.4 570.2,64.3 571.2,64.3 572.2,64.3 573.2,64.3 574.2,64.2 575.2,64.2 576.2,64.2 577.2,64.2 578.2,64.2 579.2,64.1 580.2,64.1 581.2,64.1 582.2,64.1 583.2,64.1 584.2,64 585.2,64 586.2,64 587.2,64 588.2,63.9 589.2,63.9 590.2,63.9 591.2,63.9 592.2,63.9 593.2,63.8 594.2,63.8 595.2,63.8 596.2,63.8 597.2,63.8 598.2,63.7 599.2,63.7 600.2,63.7 601.2,63.7 602.2,63.7 603.2,63.6 604.2,63.6 605.2,63.6 606.2,63.6 607.2,63.5 608.2,63.5 609.2,63.5 610.2,63.5 611.2,63.5 612.2,63.4 613.2,63.4 614.2,63.4 615.2,63.4 616.2,63.4 617.2,63.3 618.2,63.3 619.2,63.3 620.2,63.3 621.2,63.3 622.2,63.2 623.2,63.2 624.2,63.2 625.2,63.2 626.2,63.1 627.2,63.1 628.2,63.1 629.2,63.1 630.2,63.1 631.2,63 632.2,63 633.2,63 634.2,63 635.2,63 636.2,62.9 637.2,62.9 638.2,62.9 639.2,62.9 640.2,62.8 641.2,62.8 642.2,62.8 643.2,62.8 644.2,62.8 645.2,62.7 646.2,62.7 647.2,62.7 648.2,62.7 649.2,62.7 650.2,62.6 651.2,62.6 652.2,62.6 653.2,62.6 654.2,62.6 655.2,62.5 656.2,62.5 657.2,62.5 658.2,62.5 659.2,62.4 660.2,62.4 661.2,62.4 662.2,62.4 663.2,62.4 664.2,62.3 665.2,62.3 666.2,62.3 667.2,62.3 668.2,62.3 669.2,62.2 670.2,62.2 671.2,62.2 672.2,62.2 673.2,62.2 674.2,62.1 675.2,62.1 676.2,62.1 677.2,62.1 678.2,62 679.2,62 680.2,62 681.2,62 682.2,62 683.2,61.9 684.2,61.9 685.2,61.9 686.2,61.9 687.2,61.9 688.2,61.8 689.2,61.8 689.6,61.8" stroke="#c8c8c8" stroke-width="1.0" />
<path d="M501.2,65.8 502.2,65.8 503.2,65.7 504.2,65.7 505.2,65.7 506.2,65.7 507.2,65.7 508.2,65.6 509.2,65.6 510.2,65.6 511.2,65.6 512.2,65.6 513.2,65.5 514.2,65.5 515.2,65.5 516.2,65.5 517.2,65.5 518.2,65.4 519.2,65.4 520.2,65.4 521.2,65.4 522.2,65.3 523.2,65.3 524.2,65.3 525.2,65.3 526.2,65.3 527.2,65.2 528.2,65.2 529.2,65.2 530.2,65.2 531.2,65.2 532.2,65.1 533.2,65.1 534.2,65.1 535.2,65.1 536.2,65 537.2,65 538.2,65 539.2,65 540.2,65 541.2,64.9 542.2,64.9 543.2,64.9 544.2,64.9 545.2,64.9 546.2,64.8 547.2,64.8 548.2,64.8 549.2,64.8 550.2,64.7 551.2,64.7 552.2,64.7 553.2,64.7 554.2,64.7 555.2,64.6 556.2,64.6 557.2,64.6 558.2,64.5 559.2,64.5 560.2,64.5 561.2,64.4 562.2,64.4 563.2,64.4 564.2,64.3 565.2,64.3 566.2,64.2 567.2,64.2 568.2,64.1 569.2,64.1 570.2,64 571.2,63.9 572.2,63.8 573.2,63.7 574.2,63.6 575.2,63.5 576.2,63.4 577.2,63.3 578.2,63.1 579.2,63 580.2,62.8 581.2,62.6 582.2,62.4 583.2,62.2 584.2,62 585.2,61.7 586.2,61.4 587.2,61.2 588.2,60.9 589.2,60.5 590.2,60.2 591.2,59.9 592.2,59.5 593.2,59.2 594.2,58.8 595.2,58.4 596.2,58 597.2,57.6 598.2,57.2 599.2,56.8 600.2,56.4 601.2,56 602.2,55.7 603.2,55.3 604.2,55 605.2,54.6 606.2,54.3 607.2,54 608.2,53.8 609.2,53.6 610.2,53.4 611.2,53.2 612.2,53.1 613.2,53 614.2,52.9 615.2,52.9 616.2,52.9 617.2,52.9 618.2,53 619.2,53.1 620.2,53.3 621.2,53.5 622.2,53.7 623.2,53.9 624.2,54.2 625.2,54.5 626.2,54.8 627.2,55.1 628.2,55.4 629.2,55.7 630.2,56.1 631.2,56.4 632.2,56.8 633.2,57.2 634.2,57.5 635.2,57.8 636.2,58.2 637.2,58.5 638.2,58.8 639.2,59.1 640.2,59.4 641.2,59.7 642.2,59.9 643.2,60.2 644.2,60.4 645.2,60.6 646.2,60.8 647.2,61 648.2,61.2 649.2,61.3 650.2,61.4 651.2,61.6 652.2,61.7 653.2,61.8 654.2,61.8 655.2,61.9 656.2,62 657.2,62 658.2,62.1 659.2,62.1 660.2,62.1 661.2,62.2 662.2,62.2 663.2,62.2 664.2,62.2 665.2,62.2 666.2,62.2 667.2,62.2 668.2,62.2 669.2,62.2 670.2,62.2 671.2,62.2 672.2,62.1 673.2,62.1 674.2,62.1 675.2,62.1 676.2,62.1 677.2,62.1 678.2,62 679.2,62 680.2,62 681.2,62 682.2,62 683.2,61.9 684.2,61.9 685.2,61.9 686.2,61.9 687.2,61.9 688.2,61.8 689.2,61.8 689.6,61.8" stroke="#f21d1d" stroke-width="1.2" />
<path d="M501.2,65.8 502.2,65.8 503.2,65.7 504.2,65.7 505.2,65.7 506.2,65.7 507.2,65.7 508.2,65.6 509.2,65.6 510.2,65.6 511.2,65.6 512.2,65.6 513.2,65.5 514.2,65.5 515.2,65.5 516.2,65.5 517.2,65.4 518.2,65.4 519.2,65.4 520.2,65.4 521.2,65.4 522.2,65.3 523.2,65.3 524.2,65.3 525.2,65.3 526.2,65.2 527.2,65.2 528.2,65.2 529.2,65.1 530.2,65.1 531.2,65.1 532.2,65 533.2,65 534.2,64.9 535.2,64.9 536.2,64.8 537.2,64.7 538.2,64.7 539.2,64.6 540.2,64.5 541.2,64.3 542.2,64.2 543.2,64.1 544.2,63.9 545.2,63.7 546.2,63.5 547.2,63.2 548.2,62.9 549.2,62.6 550.2,62.3 551.2,61.9 552.2,61.4 553.2,60.9 554.2,60.4 555.2,59.8 556.2,59.2 557.2,58.4 558.2,57.7 559.2,56.8 560.2,55.9 561.2,54.9 562.2,53.9 563.2,52.8 564.2,51.6 565.2,50.3 566.2,49 567.2,47.6 568.2,46.2 569.2,44.7 570.2,43.1 571.2,41.5 572.2,39.9 573.2,38.3 574.2,36.6 575.2,35 576.2,33.4 577.2,31.8 578.2,30.2 579.2,28.7 580.2,27.2 581.2,25.8 582.2,24.5 583.2,23.3 584.2,22.2 585.2,21.3 586.2,20.4 587.2,19.7 588.2,19.2 589.2,18.7 590.2,18.5 591.2,18.4 592.2,18.5 593.2,18.7 594.2,19.1 595.2,19.7 596.2,20.5 597.2,21.4 598.2,22.5 599.2,23.7 600.2,25 601.2,26.4 602.2,27.9 603.2,29.5 604.2,31.2 605.2,32.9 606.2,34.6 607.2,36.3 608.2,38 609.2,39.7 610.2,41.4 611.2,43 612.2,44.6 613.2,46.2 614.2,47.6 615.2,49 616.2,50.3 617.2,51.6 618.2,52.7 619.2,53.8 620.2,54.8 621.2,55.7 622.2,56.6 623.2,57.4 624.2,58.1 625.2,58.7 626.2,59.2 627.2,59.7 628.2,60.2 629.2,60.6 630.2,60.9 631.2,61.2 632.2,61.4 633.2,61.7 634.2,61.9 635.2,62 636.2,62.1 637.2,62.3 638.2,62.3 639.2,62.4 640.2,62.5 641.2,62.5 642.2,62.6 643.2,62.6 644.2,62.6 645.2,62.6 646.2,62.6 647.2,62.6 648.2,62.6 649.2,62.6 650.2,62.6 651.2,62.6 652.2,62.6 653.2,62.6 654.2,62.5 655.2,62.5 656.2,62.5 657.2,62.5 658.2,62.5 659.2,62.4 660.2,62.4 661.2,62.4 662.2,62.4 663.2,62.4 664.2,62.3 665.2,62.3 666.2,62.3 667.2,62.3 668.2,62.3 669.2,62.2 670.2,62.2 671.2,62.2 672.2,62.2 673.2,62.2 674.2,62.1 675.2,62.1 676.2,62.1 677.2,62.1 678.2,62 679.2,62 680.2,62 681.2,62 682.2,62 683.2,61.9 684.2,61.9 685.2,61.9 686.2,61.9 687.2,61.9 688.2,61.8 689.2,61.8 689.6,61.8" stroke="#1f1ff5" stroke-width="1.2" />
<rect x="503.1" y="64.7" width="1.2" height="1.2" fill="#444" stroke="none"/>
<rect x="509.4" y="64.4" width="1.2" height="1.2" fill="#444" stroke="none"/>
<rect x="515.7" y="64.2" width="1.2" height="1.2" fill="#444" stroke="none"/>
<rect x="522" y="64.7" width="1.2" height="1.2" fill="#444" stroke="none"/>
<rect x="528.3" y="64.3" width="1.2" height="1.2" fill="#444" stroke="none"/>
<rect x="534.6" y="62.7" width="1.2" height="1.2" fill="#444" stroke="none"/>
<rect x="540.9" y="62.9" width="1.2" height="1.2" fill="#444" stroke="none"/>
<rect x="547.2" y="62.3" width="1.2" height="1.2" fill="#444" stroke="none"/>
<rect x="553.5" y="59.7" width="1.2" height="1.2" fill="#444" stroke="none"/>
<rect x="559.8" y="54" width="1.2" height="1.2" fill="#444" stroke="none"/>
<rect x="566.1" y="46.5" width="1.2" height="1.2" fill="#444" stroke="none"/>
<rect x="572.4" y="36.6" width="1.2" height="1.2" fill="#444" stroke="none"/>
<rect x="578.7" y="25.1" width="1.2" height="1.2" fill="#444" stroke="none"/>
<rect x="585" y="16.1" width="1.2" height="1.2" fill="#444" stroke="none"/>
<rect x="591.3" y="14.1" width="1.2" height="1.2" fill="#444" stroke="none"/>
<rect x="597.6" y="14.3" width="1.2" height="1.2" fill="#444" stroke="none"/>
<rect x="603.9" y="21.7" width="1.2" height="1.2" fill="#444" stroke="none"/>
<rect x="610.2" y="30.2" width="1.2" height="1.2" fill="#444" stroke="none"/>
<rect x="616.5" y="40.8" width="1.2" height="1.2" fill="#444" stroke="none"/>
<rect x="622.8" y="48.3" width="1.2" height="1.2" fill="#444" stroke="none"/>
<rect x="629.1" y="52.1" width="1.2" height="1.2" fill="#444" stroke="none"/>
<rect x="635.4" y="56.4" width="1.2" height="1.2" fill="#444" stroke="none"/>
<rect x="641.7" y="57.8" width="1.2" height="1.2" fill="#444" stroke="none"/>
<rect x="648" y="61.2" width="1.2" height="1.2" fill="#444" stroke="none"/>
<rect x="654.3" y="61.3" width="1.2" height="1.2" fill="#444" stroke="none"/>
<rect x="660.6" y="60.1" width="1.2" height="1.2" fill="#444" stroke="none"/>
<rect x="666.9" y="61.8" width="1.2" height="1.2" fill="#444" stroke="none"/>
<rect x="673.2" y="61.1" width="1.2" height="1.2" fill="#444" stroke="none"/>
<rect x="679.5" y="61" width="1.2" height="1.2" fill="#444" stroke="none"/>
<rect x="685.8" y="60.8" width="1.2" height="1.2" fill="#444" stroke="none"/>
<path d="M501.2,65.8 502.2,65.8 503.2,65.7 504.2,65.7 505.2,65.7 506.2,65.7 507.2,65.7 508.2,65.6 509.2,65.6 510.2,65.6 511.2,65.6 512.2,65.6 513.2,65.5 514.2,65.5 515.2,65.5 516.2,65.5 517.2,65.4 518.2,65.4 519.2,65.4 520.2,65.4 521.2,65.4 522.2,65.3 523.2,65.3 524.2,65.3 525.2,65.3 526.2,65.2 527.2,65.2 528.2,65.2 529.2,65.1 530.2,65.1 531.2,65.1 532.2,65 533.2,65 534.2,64.9 535.2,64.9 536.2,64.8 537.2,64.7 538.2,64.7 539.2,64.6 540.2,64.5 541.2,64.3 542.2,64.2 543.2,64.1 544.2,63.9 545.2,63.7 546.2,63.5 547.2,63.2 548.2,62.9 549.2,62.6 550.2,62.3 551.2,61.9 552.2,61.4 553.2,60.9 554.2,60.4 555.2,59.8 556.2,59.1 557.2,58.4 558.2,57.6 559.2,56.8 560.2,55.9 561.2,54.9 562.2,53.8 563.2,52.7 564.2,51.4 565.2,50.2 566.2,48.8 567.2,47.4 568.2,45.9 569.2,44.4 570.2,42.8 571.2,41.1 572.2,39.5 573.2,37.8 574.2,36 575.2,34.3 576.2,32.6 577.2,30.9 578.2,29.2 579.2,27.5 580.2,25.9 581.2,24.3 582.2,22.9 583.2,21.5 584.2,20.2 585.2,19 586.2,17.9 587.2,16.9 588.2,16.1 589.2,15.4 590.2,14.8 591.2,14.4 592.2,14.1 593.2,14 594.2,14.1 595.2,14.3 596.2,14.7 597.2,15.3 598.2,16 599.2,16.8 600.2,17.7 601.2,18.8 602.2,20 603.2,21.2 604.2,22.5 605.2,23.9 606.2,25.3 607.2,26.8 608.2,28.3 609.2,29.8 610.2,31.3 611.2,32.8 612.2,34.3 613.2,35.7 614.2,37.1 615.2,38.5 616.2,39.9 617.2,41.2 618.2,42.5 619.2,43.7 620.2,44.8 621.2,46 622.2,47 623.2,48.1 624.2,49 625.2,50 626.2,50.8 627.2,51.7 628.2,52.5 629.2,53.2 630.2,53.9 631.2,54.6 632.2,55.2 633.2,55.8 634.2,56.4 635.2,56.9 636.2,57.4 637.2,57.8 638.2,58.3 639.2,58.7 640.2,59 641.2,59.4 642.2,59.7 643.2,60 644.2,60.2 645.2,60.5 646.2,60.7 647.2,60.9 648.2,61.1 649.2,61.2 650.2,61.4 651.2,61.5 652.2,61.6 653.2,61.7 654.2,61.8 655.2,61.9 656.2,62 657.2,62 658.2,62.1 659.2,62.1 660.2,62.1 661.2,62.1 662.2,62.2 663.2,62.2 664.2,62.2 665.2,62.2 666.2,62.2 667.2,62.2 668.2,62.2 669.2,62.2 670.2,62.2 671.2,62.2 672.2,62.1 673.2,62.1 674.2,62.1 675.2,62.1 676.2,62.1 677.2,62.1 678.2,62 679.2,62 680.2,62 681.2,62 682.2,62 683.2,61.9 684.2,61.9 685.2,61.9 686.2,61.9 687.2,61.9 688.2,61.8 689.2,61.8 689.6,61.8" stroke="#9e1a1a" stroke-width="1.4" />
<path d="M501.2,147 502.2,147 503.2,147 504.2,147 505.2,147 506.2,147 507.2,147 508.2,147.1 509.2,147.1 510.2,147.1 511.2,147.1 512.2,147.1 513.2,147.1 514.2,147.1 515.2,147.1 516.2,147.1 517.2,147.1 518.2,147.1 519.2,147.1 520.2,147.1 521.2,147.2 522.2,147.2 523.2,147.2 524.2,147.2 525.2,147.2 526.2,147.2 527.2,147.2 528.2,147.2 529.2,147.2 530.2,147.2 531.2,147.2 532.2,147.2 533.2,147.2 534.2,147.2 535.2,147.3 536.2,147.3 537.2,147.3 538.2,147.3 539.2,147.3 540.2,147.3 541.2,147.3 542.2,147.3 543.2,147.3 544.2,147.3 545.2,147.3 546.2,147.3 547.2,147.3 548.2,147.4 549.2,147.4 550.2,147.4 551.2,147.4 552.2,147.4 553.2,147.4 554.2,147.4 555.2,147.4 556.2,147.4 557.2,147.4 558.2,147.4 559.2,147.4 560.2,147.4 561.2,147.4 562.2,147.5 563.2,147.5 564.2,147.5 565.2,147.5 566.2,147.5 567.2,147.5 568.2,147.5 569.2,147.5 570.2,147.5 571.2,147.5 572.2,147.5 573.2,147.5 574.2,147.5 575.2,147.6 576.2,147.6 577.2,147.6 578.2,147.6 579.2,147.6 580.2,147.6 581.2,147.6 582.2,147.6 583.2,147.6 584.2,147.6 585.2,147.6 586.2,147.6 587.2,147.6 588.2,147.6 589.2,147.7 590.2,147.7 591.2,147.7 592.2,147.7 593.2,147.7 594.2,147.7 595.2,147.7 596.2,147.7 597.2,147.7 598.2,147.7 599.2,147.7 600.2,147.7 601.2,147.7 602.2,147.8 603.2,147.8 604.2,147.8 605.2,147.8 606.2,147.8 607.2,147.8 608.2,147.8 609.2,147.8 610.2,147.8 611.2,147.8 612.2,147.8 613.2,147.8 614.2,147.8 615.2,147.8 616.2,147.9 617.2,147.9 618.2,147.9 619.2,147.9 620.2,147.9 621.2,147.9 622.2,147.9 623.2,147.9 624.2,147.9 625.2,147.9 626.2,147.9 627.2,147.9 628.2,147.9 629.2,148 630.2,148 631.2,148 632.2,148 633.2,148 634.2,148 635.2,148 636.2,148 637.2,148 638.2,148 639.2,148 640.2,148 641.2,148 642.2,148 643.2,148.1 644.2,148.1 645.2,148.1 646.2,148.1 647.2,148.1 648.2,148.1 649.2,148.1 650.2,148.1 651.2,148.1 652.2,148.1 653.2,148.1 654.2,148.1 655.2,148.1 656.2,148.2 657.2,148.2 658.2,148.2 659.2,148.2 660.2,148.2 661.2,148.2 662.2,148.2 663.2,148.2 664.2,148.2 665.2,148.2 666.2,148.2 667.2,148.2 668.2,148.2 669.2,148.2 670.2,148.3 671.2,148.3 672.2,148.3 673.2,148.3 674.2,148.3 675.2,148.3 676.2,148.3 677.2,148.3 678.2,148.3 679.2,148.3 680.2,148.3 681.2,148.3 682.2,148.3 683.2,148.4 684.2,148.4 685.2,148.4 686.2,148.4 687.2,148.4 688.2,148.4 689.2,148.4 689.6,148.4" stroke="#c8c8c8" stroke-width="1.0" />
<path d="M501.2,147 502.2,147 503.2,147 504.2,147 505.2,147 506.2,147 507.2,147 508.2,147.1 509.2,147.1 510.2,147.1 511.2,147.1 512.2,147.1 513.2,147.1 514.2,147.1 515.2,147.1 516.2,147.1 517.2,147.1 518.2,147.1 519.2,147.1 520.2,147.1 521.2,147.2 522.2,147.2 523.2,147.2 524.2,147.2 525.2,147.2 526.2,147.2 527.2,147.2 528.2,147.2 529.2,147.2 530.2,147.2 531.2,147.2 532.2,147.2 533.2,147.2 534.2,147.2 535.2,147.3 536.2,147.3 537.2,147.3 538.2,147.3 539.2,147.3 540.2,147.3 541.2,147.3 542.2,147.3 543.2,147.3 544.2,147.3 545.2,147.3 546.2,147.3 547.2,147.3 548.2,147.3 549.2,147.4 550.2,147.4 551.2,147.4 552.2,147.4 553.2,147.4 554.2,147.4 555.2,147.4 556.2,147.4 557.2,147.4 558.2,147.4 559.2,147.4 560.2,147.4 561.2,147.4 562.2,147.4 563.2,147.4 564.2,147.4 565.2,147.3 566.2,147.3 567.2,147.3 568.2,147.3 569.2,147.3 570.2,147.2 571.2,147.2 572.2,147.1 573.2,147.1 574.2,147 575.2,147 576.2,146.9 577.2,146.8 578.2,146.7 579.2,146.6 580.2,146.5 581.2,146.3 582.2,146.2 583.2,146 584.2,145.9 585.2,145.7 586.2,145.5 587.2,145.2 588.2,145 589.2,144.7 590.2,144.4 591.2,144.1 592.2,143.8 593.2,143.5 594.2,143.1 595.2,142.7 596.2,142.3 597.2,141.9 598.2,141.5 599.2,141 600.2,140.6 601.2,140.1 602.2,139.6 603.2,139.1 604.2,138.6 605.2,138.1 606.2,137.6 607.2,137.1 608.2,136.6 609.2,136.1 610.2,135.6 611.2,135.1 612.2,134.7 613.2,134.2 614.2,133.8 615.2,133.4 616.2,133 617.2,132.7 618.2,132.4 619.2,132.1 620.2,131.9 621.2,131.7 622.2,131.5 623.2,131.4 624.2,131.4 625.2,131.3 626.2,131.3 627.2,131.4 628.2,131.5 629.2,131.6 630.2,131.8 631.2,132.1 632.2,132.3 633.2,132.6 634.2,133 635.2,133.3 636.2,133.7 637.2,134.1 638.2,134.6 639.2,135.1 640.2,135.5 641.2,136 642.2,136.5 643.2,137.1 644.2,137.6 645.2,138.1 646.2,138.6 647.2,139.1 648.2,139.7 649.2,140.2 650.2,140.7 651.2,141.1 652.2,141.6 653.2,142.1 654.2,142.5 655.2,142.9 656.2,143.3 657.2,143.7 658.2,144.1 659.2,144.4 660.2,144.8 661.2,145.1 662.2,145.4 663.2,145.6 664.2,145.9 665.2,146.1 666.2,146.3 667.2,146.5 668.2,146.7 669.2,146.9 670.2,147.1 671.2,147.2 672.2,147.3 673.2,147.4 674.2,147.6 675.2,147.6 676.2,147.7 677.2,147.8 678.2,147.9 679.2,147.9 680.2,148 681.2,148.1 682.2,148.1 683.2,148.1 684.2,148.2 685.2,148.2 686.2,148.2 687.2,148.3 688.2,148.3 689.2,148.3 689.6,148.3" stroke="#f21d1d" stroke-width="1.2" />
<path d="M501.2,147 502.2,147 503.2,147 504.2,147 505.2,147 506.2,147 507.2,147 508.2,147 509.2,147 510.2,147 511.2,147.1 512.2,147.1 513.2,147.1 514.2,147.1 515.2,147.1 516.2,147.1 517.2,147 518.2,147 519.2,147 520.2,147 521.2,147 522.2,147 523.2,146.9 524.2,146.9 525.2,146.9 526.2,146.8 527.2,146.8 528.2,146.7 529.2,146.6 530.2,146.6 531.2,146.5 532.2,146.4 533.2,146.2 534.2,146.1 535.2,145.9 536.2,145.7 537.2,145.5 538.2,145.3 539.2,145 540.2,144.7 541.2,144.4 542.2,144 543.2,143.6 544.2,143.2 545.2,142.7 546.2,142.2 547.2,141.6 548.2,141 549.2,140.3 550.2,139.6 551.2,138.8 552.2,137.9 553.2,137 554.2,136.1 555.2,135.1 556.2,134 557.2,132.8 558.2,131.6 559.2,130.4 560.2,129 561.2,127.7 562.2,126.3 563.2,124.8 564.2,123.3 565.2,121.7 566.2,120.1 567.2,118.5 568.2,116.9 569.2,115.3 570.2,113.7 571.2,112 572.2,110.4 573.2,108.8 574.2,107.2 575.2,105.7 576.2,104.3 577.2,102.8 578.2,101.5 579.2,100.2 580.2,99.1 581.2,98 582.2,97 583.2,96.1 584.2,95.4 585.2,94.7 586.2,94.2 587.2,93.8 588.2,93.6 589.2,93.5 590.2,93.5 591.2,93.7 592.2,94.2 593.2,94.8 594.2,95.6 595.2,96.6 596.2,97.8 597.2,99.1 598.2,100.6 599.2,102.2 600.2,103.9 601.2,105.7 602.2,107.5 603.2,109.5 604.2,111.5 605.2,113.5 606.2,115.5 607.2,117.5 608.2,119.5 609.2,121.5 610.2,123.4 611.2,125.3 612.2,127.1 613.2,128.8 614.2,130.5 615.2,132.1 616.2,133.5 617.2,134.9 618.2,136.2 619.2,137.5 620.2,138.6 621.2,139.6 622.2,140.6 623.2,141.4 624.2,142.2 625.2,142.9 626.2,143.6 627.2,144.1 628.2,144.7 629.2,145.1 630.2,145.5 631.2,145.9 632.2,146.2 633.2,146.5 634.2,146.7 635.2,146.9 636.2,147.1 637.2,147.2 638.2,147.4 639.2,147.5 640.2,147.6 641.2,147.7 642.2,147.8 643.2,147.8 644.2,147.9 645.2,147.9 646.2,147.9 647.2,148 648.2,148 649.2,148 650.2,148.1 651.2,148.1 652.2,148.1 653.2,148.1 654.2,148.1 655.2,148.1 656.2,148.1 657.2,148.1 658.2,148.2 659.2,148.2 660.2,148.2 661.2,148.2 662.2,148.2 663.2,148.2 664.2,148.2 665.2,148.2 666.2,148.2 667.2,148.2 668.2,148.2 669.2,148.2 670.2,148.3 671.2,148.3 672.2,148.3 673.2,148.3 674.2,148.3 675.2,148.3 676.2,148.3 677.2,148.3 678.2,148.3 679.2,148.3 680.2,148.3 681.2,148.3 682.2,148.3 683.2,148.4 684.2,148.4 685.2,148.4 686.2,148.4 687.2,148.4 688.2,148.4 689.2,148.4 689.6,148.4" stroke="#1f1ff5" stroke-width="1.2" />
<path d="M501.2,147 502.2,147 503.2,147 504.2,147 505.2,147 506.2,147 507.2,147 508.2,147 509.2,147 510.2,147 511.2,147.1 512.2,147.1 513.2,147.1 514.2,147.1 515.2,147.1 516.2,147.1 517.2,147 518.2,147 519.2,147 520.2,147 521.2,147 522.2,147 523.2,146.9 524.2,146.9 525.2,146.9 526.2,146.8 527.2,146.8 528.2,146.7 529.2,146.6 530.2,146.6 531.2,146.5 532.2,146.4 533.2,146.2 534.2,146.1 535.2,145.9 536.2,145.7 537.2,145.5 538.2,145.3 539.2,145 540.2,144.7 541.2,144.4 542.2,144 543.2,143.6 544.2,143.2 545.2,142.7 546.2,142.2 547.2,141.6 548.2,141 549.2,140.3 550.2,139.6 551.2,138.8 552.2,137.9 553.2,137 554.2,136.1 555.2,135 556.2,133.9 557.2,132.8 558.2,131.6 559.2,130.3 560.2,129 561.2,127.6 562.2,126.2 563.2,124.7 564.2,123.2 565.2,121.6 566.2,120 567.2,118.4 568.2,116.7 569.2,115 570.2,113.4 571.2,111.7 572.2,110 573.2,108.4 574.2,106.7 575.2,105.1 576.2,103.6 577.2,102.1 578.2,100.6 579.2,99.2 580.2,97.9 581.2,96.7 582.2,95.6 583.2,94.5 584.2,93.6 585.2,92.8 586.2,92 587.2,91.4 588.2,90.9 589.2,90.5 590.2,90.3 591.2,90.2 592.2,90.3 593.2,90.6 594.2,91 595.2,91.6 596.2,92.4 597.2,93.3 598.2,94.3 599.2,95.5 600.2,96.7 601.2,98 602.2,99.4 603.2,100.9 604.2,102.3 605.2,103.8 606.2,105.3 607.2,106.8 608.2,108.3 609.2,109.8 610.2,111.2 611.2,112.6 612.2,113.9 613.2,115.2 614.2,116.5 615.2,117.6 616.2,118.7 617.2,119.8 618.2,120.8 619.2,121.7 620.2,122.6 621.2,123.4 622.2,124.2 623.2,124.9 624.2,125.7 625.2,126.3 626.2,127 627.2,127.6 628.2,128.2 629.2,128.8 630.2,129.4 631.2,130 632.2,130.5 633.2,131.1 634.2,131.7 635.2,132.2 636.2,132.8 637.2,133.4 638.2,134 639.2,134.5 640.2,135.1 641.2,135.7 642.2,136.2 643.2,136.8 644.2,137.4 645.2,137.9 646.2,138.5 647.2,139 648.2,139.6 649.2,140.1 650.2,140.6 651.2,141.1 652.2,141.6 653.2,142 654.2,142.5 655.2,142.9 656.2,143.3 657.2,143.7 658.2,144.1 659.2,144.4 660.2,144.8 661.2,145.1 662.2,145.4 663.2,145.6 664.2,145.9 665.2,146.1 666.2,146.3 667.2,146.5 668.2,146.7 669.2,146.9 670.2,147.1 671.2,147.2 672.2,147.3 673.2,147.4 674.2,147.6 675.2,147.6 676.2,147.7 677.2,147.8 678.2,147.9 679.2,147.9 680.2,148 681.2,148.1 682.2,148.1 683.2,148.1 684.2,148.2 685.2,148.2 686.2,148.2 687.2,148.3 688.2,148.3 689.2,148.3 689.6,148.3" stroke="#9e1a1a" stroke-width="1.4" />
<path d="M627.6,35 L627.6,141" stroke="#555" stroke-width="0.7" stroke-dasharray="1,1.5"/>
<path d="M502.6,13.4 L521,13.4" stroke="#f21d1d" stroke-width="1.6" />
<text transform="translate(523,16.6) scale(1,1.1)" font-size="7.8" >Mo<tspan font-weight="bold">Al</tspan><tspan font-size="5.5" dy="2">1-x</tspan><tspan dy="-2">B</tspan></text>
<path d="M502.6,24.8 L521,24.8" stroke="#1f1ff5" stroke-width="1.6" />
<text transform="translate(523,28) scale(1,1.1)" font-size="7.8" >Al<tspan font-size="5.5" dy="2">2</tspan><tspan dy="-2">O</tspan><tspan font-size="5.5" dy="2">3</tspan></text>
<path d="M501.5,86.5 L519.3,86.5" stroke="#f21d1d" stroke-width="1.6" />
<text transform="translate(521.7,89.7) scale(1,1.1)" font-size="7.8" >Mo<tspan font-weight="bold">Al</tspan>B</text>
<path d="M501.5,96.5 L519.3,96.5" stroke="#1f1ff5" stroke-width="1.6" />
<text transform="translate(521.7,99.7) scale(1,1.1)" font-size="7.8" >Al<tspan font-size="5.5" dy="2">2</tspan><tspan dy="-2">O</tspan><tspan font-size="5.5" dy="2">3</tspan></text>
<rect x="276.5" y="189.5" width="189.3" height="152" fill="none" stroke="#4a4a4a" stroke-width="1"/>
<path d="M276.5,341.5 L276.5,344.5" stroke="#4a4a4a" stroke-width="1" />
<text transform="translate(276.5,351.8) scale(1,1.1)" font-size="6.5" text-anchor="middle" >200</text>
<path d="M298.8,341.5 L298.8,344.5" stroke="#4a4a4a" stroke-width="1" />
<text transform="translate(298.8,351.8) scale(1,1.1)" font-size="6.5" text-anchor="middle" >198</text>
<path d="M321,341.5 L321,344.5" stroke="#4a4a4a" stroke-width="1" />
<text transform="translate(321,351.8) scale(1,1.1)" font-size="6.5" text-anchor="middle" >196</text>
<path d="M343.3,341.5 L343.3,344.5" stroke="#4a4a4a" stroke-width="1" />
<text transform="translate(343.3,351.8) scale(1,1.1)" font-size="6.5" text-anchor="middle" >194</text>
<path d="M365.6,341.5 L365.6,344.5" stroke="#4a4a4a" stroke-width="1" />
<text transform="translate(365.6,351.8) scale(1,1.1)" font-size="6.5" text-anchor="middle" >192</text>
<path d="M387.9,341.5 L387.9,344.5" stroke="#4a4a4a" stroke-width="1" />
<text transform="translate(387.9,351.8) scale(1,1.1)" font-size="6.5" text-anchor="middle" >190</text>
<path d="M410.1,341.5 L410.1,344.5" stroke="#4a4a4a" stroke-width="1" />
<text transform="translate(410.1,351.8) scale(1,1.1)" font-size="6.5" text-anchor="middle" >188</text>
<path d="M432.4,341.5 L432.4,344.5" stroke="#4a4a4a" stroke-width="1" />
<text transform="translate(432.4,351.8) scale(1,1.1)" font-size="6.5" text-anchor="middle" >186</text>
<path d="M454.7,341.5 L454.7,344.5" stroke="#4a4a4a" stroke-width="1" />
<text transform="translate(454.7,351.8) scale(1,1.1)" font-size="6.5" text-anchor="middle" >184</text>
<path d="M287.6,341.5 L287.6,343" stroke="#4a4a4a" stroke-width="1" />
<path d="M309.9,341.5 L309.9,343" stroke="#4a4a4a" stroke-width="1" />
<path d="M332.2,341.5 L332.2,343" stroke="#4a4a4a" stroke-width="1" />
<path d="M354.4,341.5 L354.4,343" stroke="#4a4a4a" stroke-width="1" />
<path d="M376.7,341.5 L376.7,343" stroke="#4a4a4a" stroke-width="1" />
<path d="M399,341.5 L399,343" stroke="#4a4a4a" stroke-width="1" />
<path d="M421.3,341.5 L421.3,343" stroke="#4a4a4a" stroke-width="1" />
<path d="M443.5,341.5 L443.5,343" stroke="#4a4a4a" stroke-width="1" />
<text transform="translate(371,364.6) scale(1,1.1)" font-size="8" text-anchor="middle" >Binding Energy (eV)</text>
<text font-size="8" text-anchor="middle" transform="translate(269,270) rotate(-90) scale(1,1.1)">Intesity (a.u.)</text>
<text x="255.7" y="209.6" font-size="16" letter-spacing="1" stroke-width="0">d)</text>
<text transform="translate(465,198) scale(1,1.1)" font-size="7.6" text-anchor="end" >B 1s</text>
<path d="M277,248.7 278,248.8 279,248.8 280,248.9 281,248.9 282,249 283,249.1 284,249.1 285,249.2 286,249.3 287,249.3 288,249.4 289,249.5 290,249.6 291,249.6 292,249.7 293,249.8 294,249.8 295,249.9 296,250 297,250.1 298,250.1 299,250.2 300,250.3 301,250.3 302,250.4 303,250.5 304,250.5 305,250.6 306,250.7 307,250.8 308,250.8 309,250.9 310,251 311,251 312,251.1 313,251.2 314,251.2 315,251.3 316,251.4 317,251.4 318,251.5 319,251.5 320,251.5 321,251.6 322,251.6 323,251.7 324,251.7 325,251.7 326,251.8 327,251.8 328,251.9 329,251.9 330,251.9 331,252 332,252 333,252 334,252.1 335,252.1 336,252.2 337,252.2 338,252.2 339,252.2 340,252.3 341,252.3 342,252.3 343,252.3 344,252.3 345,252.3 346,252.3 347,252.3 348,252.3 349,252.3 350,252.3 351,252.3 352,252.3 353,252.3 354,252.3 355,252.3 356,252.3 357,252.3 358,252.3 359,252.3 360,252.3 361,252.3 362,252.3 363,252.3 364,252.3 365,252.3 366,252.3 367,252.3 368,252.3 369,252.3 370,252.3 371,252.3 372,252.3 373,252.3 374,252.3 375,252.3 376,252.3 377,252.3 378,252.3 379,252.3 380,252.3 381,252.3 382,252.3 383,252.3 384,252.3 385,252.3 386,252.3 387,252.3 388,252.3 389,252.3 390,252.3 391,252.3 392,252.3 393,252.3 394,252.3 395,252.3 396,252.3 397,252.3 398,252.3 399,252.3 400,252.3 401,252.3 402,252.3 403,252.3 404,252.3 405,252.3 406,252.3 407,252.3 408,252.3 409,252.3 410,252.3 411,252.3 412,252.3 413,252.3 414,252.3 415,252.3 416,252.3 417,252.3 418,252.3 419,252.3 420,252.3 421,252.3 422,252.3 423,252.3 424,252.3 425,252.3 426,252.3 427,252.3 428,252.3 429,252.3 430,252.3 431,252.3 432,252.3 433,252.3 434,252.3 435,252.3 436,252.3 437,252.3 438,252.3 439,252.3 440,252.3 441,252.3 442,252.3 443,252.3 444,252.3 445,252.3 446,252.3 447,252.3 448,252.3 449,252.3 450,252.3 451,252.3 452,252.3 453,252.3 454,252.3 455,252.3 456,252.3 457,252.3 458,252.3 459,252.3 460,252.3 461,252.3 462,252.3 463,252.3 464,252.3 465,252.3 465.6,252.3" stroke="#c8c8c8" stroke-width="1.0" />
<path d="M277,248.7 278,248.8 279,248.8 280,248.9 281,248.9 282,249 283,249.1 284,249.1 285,249.2 286,249.3 287,249.3 288,249.4 289,249.5 290,249.6 291,249.6 292,249.7 293,249.8 294,249.8 295,249.9 296,250 297,250.1 298,250.1 299,250.2 300,250.3 301,250.3 302,250.4 303,250.5 304,250.5 305,250.6 306,250.7 307,250.8 308,250.8 309,250.9 310,251 311,251 312,251.1 313,251.2 314,251.2 315,251.3 316,251.4 317,251.4 318,251.5 319,251.5 320,251.5 321,251.6 322,251.6 323,251.7 324,251.7 325,251.7 326,251.8 327,251.8 328,251.8 329,251.9 330,251.9 331,252 332,252 333,252 334,252.1 335,252.1 336,252.1 337,252.2 338,252.2 339,252.2 340,252.2 341,252.2 342,252.2 343,252.2 344,252.2 345,252.1 346,252.1 347,252.1 348,252 349,252 350,251.9 351,251.8 352,251.8 353,251.7 354,251.6 355,251.4 356,251.3 357,251.2 358,251 359,250.8 360,250.6 361,250.4 362,250.1 363,249.9 364,249.6 365,249.3 366,249 367,248.7 368,248.3 369,248 370,247.6 371,247.2 372,246.8 373,246.4 374,246 375,245.6 376,245.3 377,244.9 378,244.5 379,244.2 380,243.9 381,243.6 382,243.3 383,243.1 384,242.9 385,242.8 386,242.7 387,242.6 388,242.6 389,242.6 390,242.7 391,242.8 392,242.9 393,243.1 394,243.3 395,243.6 396,243.9 397,244.2 398,244.5 399,244.9 400,245.3 401,245.6 402,246 403,246.4 404,246.8 405,247.2 406,247.6 407,248 408,248.3 409,248.7 410,249 411,249.3 412,249.6 413,249.9 414,250.1 415,250.4 416,250.6 417,250.8 418,251 419,251.2 420,251.3 421,251.4 422,251.6 423,251.7 424,251.8 425,251.8 426,251.9 427,252 428,252 429,252.1 430,252.1 431,252.1 432,252.2 433,252.2 434,252.2 435,252.2 436,252.2 437,252.3 438,252.3 439,252.3 440,252.3 441,252.3 442,252.3 443,252.3 444,252.3 445,252.3 446,252.3 447,252.3 448,252.3 449,252.3 450,252.3 451,252.3 452,252.3 453,252.3 454,252.3 455,252.3 456,252.3 457,252.3 458,252.3 459,252.3 460,252.3 461,252.3 462,252.3 463,252.3 464,252.3 465,252.3 465.6,252.3" stroke="#f21d1d" stroke-width="1.2" />
<path d="M277,248.7 278,248.8 279,248.8 280,248.9 281,248.9 282,249 283,249.1 284,249.1 285,249.2 286,249.3 287,249.3 288,249.4 289,249.5 290,249.6 291,249.6 292,249.7 293,249.8 294,249.8 295,249.9 296,250 297,250.1 298,250.1 299,250.2 300,250.3 301,250.3 302,250.4 303,250.5 304,250.5 305,250.6 306,250.7 307,250.8 308,250.8 309,250.9 310,251 311,251 312,251.1 313,251.1 314,251.2 315,251.2 316,251.3 317,251.3 318,251.3 319,251.2 320,251.2 321,251.1 322,251 323,250.8 324,250.6 325,250.4 326,250 327,249.6 328,249.1 329,248.5 330,247.7 331,246.8 332,245.8 333,244.5 334,243.2 335,241.6 336,239.8 337,237.9 338,235.7 339,233.4 340,230.9 341,228.3 342,225.6 343,222.8 344,219.9 345,217.1 346,214.4 347,211.7 348,209.3 349,207.1 350,205.1 351,203.5 352,202.2 353,201.3 354,200.9 355,200.8 356,201.2 357,202 358,203.2 359,204.8 360,206.6 361,208.8 362,211.2 363,213.8 364,216.6 365,219.4 366,222.2 367,225 368,227.8 369,230.4 370,233 371,235.4 372,237.6 373,239.6 374,241.4 375,243.1 376,244.5 377,245.8 378,246.9 379,247.9 380,248.7 381,249.4 382,250 383,250.5 384,250.9 385,251.2 386,251.4 387,251.6 388,251.8 389,251.9 390,252 391,252.1 392,252.1 393,252.2 394,252.2 395,252.2 396,252.3 397,252.3 398,252.3 399,252.3 400,252.3 401,252.3 402,252.3 403,252.3 404,252.3 405,252.3 406,252.3 407,252.3 408,252.3 409,252.3 410,252.3 411,252.3 412,252.3 413,252.3 414,252.3 415,252.3 416,252.3 417,252.3 418,252.3 419,252.3 420,252.3 421,252.3 422,252.3 423,252.3 424,252.3 425,252.3 426,252.3 427,252.3 428,252.3 429,252.3 430,252.3 431,252.3 432,252.3 433,252.3 434,252.3 435,252.3 436,252.3 437,252.3 438,252.3 439,252.3 440,252.3 441,252.3 442,252.3 443,252.3 444,252.3 445,252.3 446,252.3 447,252.3 448,252.3 449,252.3 450,252.3 451,252.3 452,252.3 453,252.3 454,252.3 455,252.3 456,252.3 457,252.3 458,252.3 459,252.3 460,252.3 461,252.3 462,252.3 463,252.3 464,252.3 465,252.3 465.6,252.3" stroke="#1f1ff5" stroke-width="1.2" />
<rect x="281" y="245.7" width="1.3" height="1.3" fill="#444" stroke="none"/>
<rect x="285.7" y="246" width="1.3" height="1.3" fill="#444" stroke="none"/>
<rect x="289.1" y="247.3" width="1.3" height="1.3" fill="#444" stroke="none"/>
<rect x="294.7" y="248.7" width="1.3" height="1.3" fill="#444" stroke="none"/>
<rect x="298.1" y="246.9" width="1.3" height="1.3" fill="#444" stroke="none"/>
<rect x="301.1" y="249.4" width="1.3" height="1.3" fill="#444" stroke="none"/>
<rect x="304.1" y="249.2" width="1.3" height="1.3" fill="#444" stroke="none"/>
<rect x="308" y="249.2" width="1.3" height="1.3" fill="#444" stroke="none"/>
<rect x="312.2" y="247.5" width="1.3" height="1.3" fill="#444" stroke="none"/>
<rect x="315.7" y="250.8" width="1.3" height="1.3" fill="#444" stroke="none"/>
<rect x="320.8" y="249.4" width="1.3" height="1.3" fill="#444" stroke="none"/>
<rect x="326" y="249.9" width="1.3" height="1.3" fill="#444" stroke="none"/>
<rect x="329.4" y="249.9" width="1.3" height="1.3" fill="#444" stroke="none"/>
<rect x="333.9" y="247.2" width="1.3" height="1.3" fill="#444" stroke="none"/>
<rect x="337.8" y="243.6" width="1.3" height="1.3" fill="#444" stroke="none"/>
<rect x="341.6" y="238" width="1.3" height="1.3" fill="#444" stroke="none"/>
<rect x="345.5" y="228.4" width="1.3" height="1.3" fill="#444" stroke="none"/>
<rect x="349.4" y="214.6" width="1.3" height="1.3" fill="#444" stroke="none"/>
<rect x="353.3" y="203.2" width="1.3" height="1.3" fill="#444" stroke="none"/>
<rect x="357.2" y="196.5" width="1.3" height="1.3" fill="#444" stroke="none"/>
<rect x="361.1" y="195.1" width="1.3" height="1.3" fill="#444" stroke="none"/>
<rect x="365" y="202.6" width="1.3" height="1.3" fill="#444" stroke="none"/>
<rect x="368.9" y="212.1" width="1.3" height="1.3" fill="#444" stroke="none"/>
<rect x="372.8" y="221.2" width="1.3" height="1.3" fill="#444" stroke="none"/>
<rect x="376.7" y="228.7" width="1.3" height="1.3" fill="#444" stroke="none"/>
<rect x="380.6" y="234.6" width="1.3" height="1.3" fill="#444" stroke="none"/>
<rect x="384.5" y="236.6" width="1.3" height="1.3" fill="#444" stroke="none"/>
<rect x="388.4" y="238.5" width="1.3" height="1.3" fill="#444" stroke="none"/>
<rect x="392.3" y="239.6" width="1.3" height="1.3" fill="#444" stroke="none"/>
<rect x="396.2" y="240.6" width="1.3" height="1.3" fill="#444" stroke="none"/>
<rect x="400.1" y="241.6" width="1.3" height="1.3" fill="#444" stroke="none"/>
<rect x="404" y="243.4" width="1.3" height="1.3" fill="#444" stroke="none"/>
<rect x="407.9" y="247.1" width="1.3" height="1.3" fill="#444" stroke="none"/>
<rect x="411.8" y="246.8" width="1.3" height="1.3" fill="#444" stroke="none"/>
<rect x="415.7" y="248.4" width="1.3" height="1.3" fill="#444" stroke="none"/>
<rect x="419.6" y="249.7" width="1.3" height="1.3" fill="#444" stroke="none"/>
<rect x="423.5" y="250.4" width="1.3" height="1.3" fill="#444" stroke="none"/>
<rect x="427.4" y="250.6" width="1.3" height="1.3" fill="#444" stroke="none"/>
<rect x="431.3" y="249.6" width="1.3" height="1.3" fill="#444" stroke="none"/>
<rect x="435.2" y="250.4" width="1.3" height="1.3" fill="#444" stroke="none"/>
<rect x="439.1" y="251.2" width="1.3" height="1.3" fill="#444" stroke="none"/>
<rect x="443" y="250.5" width="1.3" height="1.3" fill="#444" stroke="none"/>
<rect x="446.9" y="250.4" width="1.3" height="1.3" fill="#444" stroke="none"/>
<rect x="450.8" y="249.9" width="1.3" height="1.3" fill="#444" stroke="none"/>
<rect x="454.7" y="251.4" width="1.3" height="1.3" fill="#444" stroke="none"/>
<rect x="458.6" y="251.1" width="1.3" height="1.3" fill="#444" stroke="none"/>
<rect x="462.5" y="250.5" width="1.3" height="1.3" fill="#444" stroke="none"/>
<path d="M277,248.6 278,248.7 279,248.8 280,248.9 281,249 282,249.1 283,249.2 284,249.3 285,249.4 286,249.4 287,249.5 288,249.6 289,249.7 290,249.8 291,249.8 292,249.9 293,250 294,250.1 295,250.1 296,250.2 297,250.3 298,250.4 299,250.4 300,250.5 301,250.6 302,250.6 303,250.7 304,250.8 305,250.8 306,250.9 307,251 308,251 309,251.1 310,251.2 311,251.2 312,251.3 313,251.3 314,251.4 315,251.4 316,251.4 317,251.4 318,251.4 319,251.3 320,251.2 321,251.1 322,251 323,250.8 324,250.5 325,250.1 326,249.7 327,249 328,248.3 329,247.4 330,246.4 331,245.3 332,244.3 333,243.2 334,242.1 335,240.8 336,239.3 337,237.5 338,235.1 339,232.4 340,229.4 341,226.4 342,223.4 343,220.5 344,218.1 345,215.8 346,213.7 347,211.6 348,209.6 349,207.8 350,206.1 351,204.3 352,202.6 353,201.2 354,200.5 355,200.3 356,200.2 357,200.6 358,201.5 359,203.1 360,205.5 361,208.3 362,211 363,213.5 364,216.1 365,218.7 366,221.3 367,223.7 368,226 369,228 370,229.9 371,231.7 372,233.5 373,235.1 374,236.5 375,237.6 376,238.5 377,239.1 378,239.6 379,240.1 380,240.4 381,240.8 382,241.1 383,241.4 384,241.7 385,242 386,242.2 387,242.4 388,242.7 389,243 390,243.3 391,243.6 392,243.9 393,244.2 394,244.6 395,244.9 396,245.2 397,245.6 398,245.9 399,246.2 400,246.6 401,247 402,247.4 403,247.8 404,248.2 405,248.5 406,248.9 407,249.2 408,249.5 409,249.8 410,250 411,250.1 412,250.3 413,250.5 414,250.7 415,250.9 416,251 417,251.2 418,251.3 419,251.4 420,251.5 421,251.6 422,251.7 423,251.7 424,251.7 425,251.7 426,251.7 427,251.7 428,251.7 429,251.7 430,251.7 431,251.7 432,251.7 433,251.7 434,251.7 435,251.8 436,251.8 437,251.8 438,251.8 439,251.8 440,251.8 441,251.8 442,251.8 443,251.8 444,251.8 445,251.8 446,251.8 447,251.8 448,251.8 449,251.8 450,251.8 451,251.8 452,251.8 453,251.8 454,251.8 455,251.8 456,251.8 457,251.8 458,251.8 459,251.8 460,251.8 461,251.8 462,251.8 463,251.8 464,251.8 465,251.8 465.6,251.8" stroke="#9e1a1a" stroke-width="1.4" />
<path d="M277,328.8 278,328.9 279,328.9 280,329 281,329.1 282,329.1 283,329.2 284,329.3 285,329.4 286,329.5 287,329.6 288,329.6 289,329.7 290,329.8 291,329.9 292,330 293,330 294,330.1 295,330.2 296,330.3 297,330.4 298,330.5 299,330.5 300,330.6 301,330.7 302,330.7 303,330.8 304,330.9 305,330.9 306,330.9 307,331 308,331 309,331 310,331 311,331 312,331.1 313,331.1 314,331.1 315,331.1 316,331.1 317,331.2 318,331.2 319,331.2 320,331.2 321,331.2 322,331.3 323,331.3 324,331.3 325,331.3 326,331.3 327,331.4 328,331.4 329,331.4 330,331.4 331,331.4 332,331.4 333,331.5 334,331.5 335,331.5 336,331.5 337,331.5 338,331.6 339,331.6 340,331.6 341,331.6 342,331.6 343,331.6 344,331.6 345,331.6 346,331.6 347,331.6 348,331.6 349,331.6 350,331.6 351,331.6 352,331.6 353,331.6 354,331.6 355,331.6 356,331.6 357,331.6 358,331.6 359,331.6 360,331.6 361,331.6 362,331.6 363,331.6 364,331.6 365,331.6 366,331.6 367,331.6 368,331.6 369,331.6 370,331.6 371,331.6 372,331.6 373,331.6 374,331.6 375,331.6 376,331.6 377,331.6 378,331.6 379,331.6 380,331.6 381,331.6 382,331.6 383,331.6 384,331.6 385,331.6 386,331.6 387,331.6 388,331.6 389,331.6 390,331.6 391,331.6 392,331.6 393,331.6 394,331.6 395,331.6 396,331.6 397,331.6 398,331.6 399,331.6 400,331.6 401,331.6 402,331.6 403,331.6 404,331.6 405,331.6 406,331.6 407,331.6 408,331.6 409,331.6 410,331.6 411,331.6 412,331.6 413,331.6 414,331.6 415,331.6 416,331.6 417,331.6 418,331.6 419,331.6 420,331.6 421,331.6 422,331.6 423,331.6 424,331.6 425,331.6 426,331.6 427,331.6 428,331.6 429,331.6 430,331.6 431,331.6 432,331.6 433,331.6 434,331.6 435,331.6 436,331.6 437,331.6 438,331.6 439,331.6 440,331.6 441,331.6 442,331.6 443,331.6 444,331.6 445,331.6 446,331.6 447,331.6 448,331.6 449,331.6 450,331.6 451,331.6 452,331.6 453,331.6 454,331.6 455,331.6 456,331.6 457,331.6 458,331.6 459,331.6 460,331.6 461,331.6 462,331.6 463,331.6 464,331.6 465,331.6 465.6,331.6" stroke="#c8c8c8" stroke-width="1.0" />
<path d="M277,328.8 278,328.9 279,328.9 280,329 281,329.1 282,329.1 283,329.2 284,329.3 285,329.4 286,329.5 287,329.6 288,329.6 289,329.7 290,329.8 291,329.9 292,330 293,330 294,330.1 295,330.2 296,330.3 297,330.4 298,330.5 299,330.5 300,330.6 301,330.7 302,330.7 303,330.8 304,330.9 305,330.9 306,330.9 307,331 308,331 309,331 310,331 311,331 312,331.1 313,331.1 314,331.1 315,331.1 316,331.1 317,331.2 318,331.2 319,331.2 320,331.2 321,331.2 322,331.3 323,331.3 324,331.3 325,331.3 326,331.3 327,331.4 328,331.4 329,331.4 330,331.4 331,331.4 332,331.4 333,331.5 334,331.5 335,331.5 336,331.5 337,331.5 338,331.6 339,331.6 340,331.6 341,331.6 342,331.6 343,331.6 344,331.6 345,331.6 346,331.6 347,331.6 348,331.6 349,331.6 350,331.6 351,331.6 352,331.6 353,331.6 354,331.6 355,331.6 356,331.6 357,331.6 358,331.6 359,331.6 360,331.5 361,331.5 362,331.5 363,331.4 364,331.4 365,331.3 366,331.2 367,331.1 368,331 369,330.8 370,330.5 371,330.3 372,329.9 373,329.5 374,329 375,328.3 376,327.6 377,326.8 378,325.8 379,324.7 380,323.4 381,322 382,320.5 383,318.8 384,316.9 385,315 386,312.9 387,310.8 388,308.5 389,306.3 390,304.1 391,301.9 392,299.8 393,297.9 394,296.1 395,294.5 396,293.2 397,292.2 398,291.5 399,291.1 400,291 401,291.3 402,291.9 403,292.8 404,294 405,295.4 406,297.1 407,299 408,301.1 409,303.2 410,305.4 411,307.6 412,309.9 413,312.1 414,314.2 415,316.2 416,318.1 417,319.8 418,321.4 419,322.9 420,324.2 421,325.4 422,326.4 423,327.3 424,328.1 425,328.7 426,329.3 427,329.7 428,330.1 429,330.4 430,330.7 431,330.9 432,331.1 433,331.2 434,331.3 435,331.4 436,331.4 437,331.5 438,331.5 439,331.5 440,331.6 441,331.6 442,331.6 443,331.6 444,331.6 445,331.6 446,331.6 447,331.6 448,331.6 449,331.6 450,331.6 451,331.6 452,331.6 453,331.6 454,331.6 455,331.6 456,331.6 457,331.6 458,331.6 459,331.6 460,331.6 461,331.6 462,331.6 463,331.6 464,331.6 465,331.6 465.6,331.6" stroke="#f21d1d" stroke-width="1.2" />
<path d="M277,328.8 278,328.9 279,328.9 280,329 281,329.1 282,329.1 283,329.2 284,329.3 285,329.4 286,329.5 287,329.6 288,329.6 289,329.7 290,329.8 291,329.9 292,330 293,330 294,330.1 295,330.2 296,330.3 297,330.4 298,330.5 299,330.5 300,330.6 301,330.7 302,330.7 303,330.8 304,330.9 305,330.9 306,330.9 307,331 308,331 309,331 310,331 311,331 312,331 313,331.1 314,331.1 315,331.1 316,331.1 317,331.1 318,331 319,331 320,331 321,330.9 322,330.8 323,330.7 324,330.6 325,330.4 326,330.1 327,329.8 328,329.5 329,329 330,328.5 331,327.8 332,327 333,326.1 334,325 335,323.8 336,322.4 337,320.9 338,319.2 339,317.3 340,315.2 341,313 342,310.6 343,308.1 344,305.6 345,303 346,300.3 347,297.8 348,295.2 349,292.8 350,290.6 351,288.6 352,286.9 353,285.4 354,284.3 355,283.5 356,283.1 357,283.1 358,283.5 359,284.3 360,285.4 361,286.9 362,288.6 363,290.6 364,292.8 365,295.2 366,297.8 367,300.3 368,303 369,305.6 370,308.1 371,310.6 372,313 373,315.2 374,317.3 375,319.2 376,320.9 377,322.5 378,323.9 379,325.2 380,326.2 381,327.2 382,328 383,328.6 384,329.2 385,329.7 386,330.1 387,330.4 388,330.7 389,330.9 390,331 391,331.2 392,331.3 393,331.4 394,331.4 395,331.5 396,331.5 397,331.5 398,331.5 399,331.6 400,331.6 401,331.6 402,331.6 403,331.6 404,331.6 405,331.6 406,331.6 407,331.6 408,331.6 409,331.6 410,331.6 411,331.6 412,331.6 413,331.6 414,331.6 415,331.6 416,331.6 417,331.6 418,331.6 419,331.6 420,331.6 421,331.6 422,331.6 423,331.6 424,331.6 425,331.6 426,331.6 427,331.6 428,331.6 429,331.6 430,331.6 431,331.6 432,331.6 433,331.6 434,331.6 435,331.6 436,331.6 437,331.6 438,331.6 439,331.6 440,331.6 441,331.6 442,331.6 443,331.6 444,331.6 445,331.6 446,331.6 447,331.6 448,331.6 449,331.6 450,331.6 451,331.6 452,331.6 453,331.6 454,331.6 455,331.6 456,331.6 457,331.6 458,331.6 459,331.6 460,331.6 461,331.6 462,331.6 463,331.6 464,331.6 465,331.6 465.6,331.6" stroke="#1f1ff5" stroke-width="1.2" />
<rect x="278.7" y="319.6" width="1.2" height="1.2" fill="#555" stroke="none"/>
<rect x="283" y="323.7" width="1.2" height="1.2" fill="#555" stroke="none"/>
<rect x="287.9" y="331" width="1.2" height="1.2" fill="#555" stroke="none"/>
<rect x="290.8" y="325.4" width="1.2" height="1.2" fill="#555" stroke="none"/>
<rect x="294.4" y="326.1" width="1.2" height="1.2" fill="#555" stroke="none"/>
<rect x="297.6" y="324.9" width="1.2" height="1.2" fill="#555" stroke="none"/>
<rect x="301.2" y="324.9" width="1.2" height="1.2" fill="#555" stroke="none"/>
<rect x="302.5" y="331.7" width="1.2" height="1.2" fill="#555" stroke="none"/>
<rect x="308.3" y="323.7" width="1.2" height="1.2" fill="#555" stroke="none"/>
<rect x="310.7" y="328.1" width="1.2" height="1.2" fill="#555" stroke="none"/>
<rect x="314.6" y="323.7" width="1.2" height="1.2" fill="#555" stroke="none"/>
<rect x="319.4" y="332.2" width="1.2" height="1.2" fill="#555" stroke="none"/>
<rect x="323.1" y="326.1" width="1.2" height="1.2" fill="#555" stroke="none"/>
<rect x="326.7" y="323" width="1.2" height="1.2" fill="#555" stroke="none"/>
<rect x="330.4" y="324.4" width="1.2" height="1.2" fill="#555" stroke="none"/>
<rect x="336.4" y="320.6" width="1.2" height="1.2" fill="#555" stroke="none"/>
<rect x="341.3" y="304.3" width="1.2" height="1.2" fill="#555" stroke="none"/>
<rect x="348.6" y="291.4" width="1.2" height="1.2" fill="#555" stroke="none"/>
<rect x="352.7" y="281.2" width="1.2" height="1.2" fill="#555" stroke="none"/>
<rect x="356.3" y="278.8" width="1.2" height="1.2" fill="#555" stroke="none"/>
<rect x="362.9" y="293.4" width="1.2" height="1.2" fill="#555" stroke="none"/>
<rect x="366.5" y="300.2" width="1.2" height="1.2" fill="#555" stroke="none"/>
<rect x="372.8" y="309.2" width="1.2" height="1.2" fill="#555" stroke="none"/>
<rect x="375.3" y="314" width="1.2" height="1.2" fill="#555" stroke="none"/>
<rect x="380.2" y="316.4" width="1.2" height="1.2" fill="#555" stroke="none"/>
<rect x="387.4" y="315.2" width="1.2" height="1.2" fill="#555" stroke="none"/>
<rect x="388.7" y="309.2" width="1.2" height="1.2" fill="#555" stroke="none"/>
<rect x="392.3" y="299.4" width="1.2" height="1.2" fill="#555" stroke="none"/>
<rect x="396" y="289.7" width="1.2" height="1.2" fill="#555" stroke="none"/>
<rect x="399.1" y="288.4" width="1.2" height="1.2" fill="#555" stroke="none"/>
<rect x="406.9" y="303.1" width="1.2" height="1.2" fill="#555" stroke="none"/>
<rect x="409.3" y="309.2" width="1.2" height="1.2" fill="#555" stroke="none"/>
<rect x="414.2" y="316.4" width="1.2" height="1.2" fill="#555" stroke="none"/>
<rect x="419" y="318.9" width="1.2" height="1.2" fill="#555" stroke="none"/>
<rect x="422.7" y="323.7" width="1.2" height="1.2" fill="#555" stroke="none"/>
<rect x="426.3" y="324.9" width="1.2" height="1.2" fill="#555" stroke="none"/>
<rect x="434.8" y="324.4" width="1.2" height="1.2" fill="#555" stroke="none"/>
<rect x="442.1" y="329.8" width="1.2" height="1.2" fill="#555" stroke="none"/>
<rect x="446.4" y="332.7" width="1.2" height="1.2" fill="#555" stroke="none"/>
<rect x="446.9" y="328.6" width="1.2" height="1.2" fill="#555" stroke="none"/>
<rect x="451.8" y="327.8" width="1.2" height="1.2" fill="#555" stroke="none"/>
<rect x="457.8" y="324.9" width="1.2" height="1.2" fill="#555" stroke="none"/>
<rect x="462.7" y="329.8" width="1.2" height="1.2" fill="#555" stroke="none"/>
<path d="M277,328.8 278,328.9 279,328.9 280,329 281,329.1 282,329.1 283,329.2 284,329.3 285,329.4 286,329.5 287,329.6 288,329.6 289,329.7 290,329.8 291,329.9 292,330 293,330 294,330.1 295,330.2 296,330.3 297,330.4 298,330.5 299,330.5 300,330.6 301,330.7 302,330.7 303,330.8 304,330.9 305,330.9 306,330.9 307,331 308,331 309,331 310,331 311,331 312,331 313,331.1 314,331.1 315,331.1 316,331.1 317,331.1 318,331 319,331 320,331 321,330.9 322,330.8 323,330.7 324,330.6 325,330.4 326,330.1 327,329.8 328,329.5 329,329 330,328.5 331,327.8 332,327 333,326.1 334,325 335,323.8 336,322.4 337,320.9 338,319.2 339,317.3 340,315.2 341,313 342,310.6 343,308.1 344,305.6 345,303 346,300.3 347,297.8 348,295.2 349,292.8 350,290.6 351,288.6 352,286.9 353,285.4 354,284.3 355,283.5 356,283.1 357,283.1 358,283.5 359,284.3 360,285.4 361,286.8 362,288.5 363,290.5 364,292.6 365,295 366,297.4 367,299.9 368,302.3 369,304.8 370,307.1 371,309.3 372,311.3 373,313.1 374,314.6 375,315.9 376,317 377,317.7 378,318.1 379,318.2 380,318.1 381,317.6 382,316.8 383,315.8 384,314.6 385,313.1 386,311.4 387,309.6 388,307.6 389,305.6 390,303.5 391,301.5 392,299.5 393,297.6 394,295.9 395,294.4 396,293.1 397,292.1 398,291.4 399,291 400,291 401,291.3 402,291.9 403,292.8 404,294 405,295.4 406,297.1 407,299 408,301.1 409,303.2 410,305.4 411,307.6 412,309.9 413,312.1 414,314.2 415,316.2 416,318.1 417,319.8 418,321.4 419,322.9 420,324.2 421,325.4 422,326.4 423,327.3 424,328.1 425,328.7 426,329.3 427,329.7 428,330.1 429,330.4 430,330.7 431,330.9 432,331.1 433,331.2 434,331.3 435,331.4 436,331.4 437,331.5 438,331.5 439,331.5 440,331.6 441,331.6 442,331.6 443,331.6 444,331.6 445,331.6 446,331.6 447,331.6 448,331.6 449,331.6 450,331.6 451,331.6 452,331.6 453,331.6 454,331.6 455,331.6 456,331.6 457,331.6 458,331.6 459,331.6 460,331.6 461,331.6 462,331.6 463,331.6 464,331.6 465,331.6 465.6,331.6" stroke="#9e1a1a" stroke-width="1.4" />
<path d="M400.2,234 L400.2,291" stroke="#555" stroke-width="0.7" stroke-dasharray="1,1.5"/>
<path d="M281.7,200.6 L300,200.6" stroke="#f21d1d" stroke-width="1.6" />
<text transform="translate(302.3,203.8) scale(1,1.1)" font-size="7.8" >MoAl<tspan font-size="5.5" dy="2">1-x</tspan><tspan dy="-2"><tspan font-weight="bold">B</tspan></tspan></text>
<path d="M281.7,212.2 L300,212.2" stroke="#1f1ff5" stroke-width="1.6" />
<text transform="translate(302.3,214.7) scale(1,1.1)" font-size="7.8" >B<tspan font-size="5.5" dy="2">2</tspan><tspan dy="-2">O</tspan><tspan font-size="5.5" dy="2">3</tspan></text>
<path d="M281.7,282.3 L300,282.3" stroke="#f21d1d" stroke-width="1.6" />
<text transform="translate(302.3,285.5) scale(1,1.1)" font-size="7.8" >MoAl<tspan font-weight="bold">B</tspan></text>
<path d="M281.7,291.5 L300,291.5" stroke="#1f1ff5" stroke-width="1.6" />
<text transform="translate(302.3,294.7) scale(1,1.1)" font-size="7.8" >B<tspan font-size="5.5" dy="2">2</tspan><tspan dy="-2">O</tspan><tspan font-size="5.5" dy="2">3</tspan></text>
<rect x="500.7" y="189.6" width="189.1" height="152" fill="none" stroke="#4a4a4a" stroke-width="1"/>
<path d="M500.7,341.6 L500.7,344.6" stroke="#4a4a4a" stroke-width="1" />
<text transform="translate(500.7,351.8) scale(1,1.1)" font-size="6.5" text-anchor="middle" >540</text>
<path d="M522.9,341.6 L522.9,344.6" stroke="#4a4a4a" stroke-width="1" />
<text transform="translate(522.9,351.8) scale(1,1.1)" font-size="6.5" text-anchor="middle" >538</text>
<path d="M545.2,341.6 L545.2,344.6" stroke="#4a4a4a" stroke-width="1" />
<text transform="translate(545.2,351.8) scale(1,1.1)" font-size="6.5" text-anchor="middle" >536</text>
<path d="M567.4,341.6 L567.4,344.6" stroke="#4a4a4a" stroke-width="1" />
<text transform="translate(567.4,351.8) scale(1,1.1)" font-size="6.5" text-anchor="middle" >534</text>
<path d="M589.7,341.6 L589.7,344.6" stroke="#4a4a4a" stroke-width="1" />
<text transform="translate(589.7,351.8) scale(1,1.1)" font-size="6.5" text-anchor="middle" >532</text>
<path d="M611.9,341.6 L611.9,344.6" stroke="#4a4a4a" stroke-width="1" />
<text transform="translate(611.9,351.8) scale(1,1.1)" font-size="6.5" text-anchor="middle" >530</text>
<path d="M634.2,341.6 L634.2,344.6" stroke="#4a4a4a" stroke-width="1" />
<text transform="translate(634.2,351.8) scale(1,1.1)" font-size="6.5" text-anchor="middle" >528</text>
<path d="M656.4,341.6 L656.4,344.6" stroke="#4a4a4a" stroke-width="1" />
<text transform="translate(656.4,351.8) scale(1,1.1)" font-size="6.5" text-anchor="middle" >526</text>
<path d="M678.7,341.6 L678.7,344.6" stroke="#4a4a4a" stroke-width="1" />
<text transform="translate(678.7,351.8) scale(1,1.1)" font-size="6.5" text-anchor="middle" >524</text>
<path d="M511.8,341.6 L511.8,343.1" stroke="#4a4a4a" stroke-width="1" />
<path d="M534.1,341.6 L534.1,343.1" stroke="#4a4a4a" stroke-width="1" />
<path d="M556.3,341.6 L556.3,343.1" stroke="#4a4a4a" stroke-width="1" />
<path d="M578.6,341.6 L578.6,343.1" stroke="#4a4a4a" stroke-width="1" />
<path d="M600.8,341.6 L600.8,343.1" stroke="#4a4a4a" stroke-width="1" />
<path d="M623.1,341.6 L623.1,343.1" stroke="#4a4a4a" stroke-width="1" />
<path d="M645.3,341.6 L645.3,343.1" stroke="#4a4a4a" stroke-width="1" />
<path d="M667.6,341.6 L667.6,343.1" stroke="#4a4a4a" stroke-width="1" />
<text transform="translate(595,364.9) scale(1,1.1)" font-size="8" text-anchor="middle" >Bingding Energy (eV)</text>
<text font-size="8" text-anchor="middle" transform="translate(493,266) rotate(-90) scale(1,1.1)">Intesity (a.u.)</text>
<text x="480.6" y="208.6" font-size="16" letter-spacing="1" stroke-width="0">e)</text>
<text transform="translate(688.5,198.4) scale(1,1.1)" font-size="7.6" text-anchor="end" >O 1s</text>
<path d="M501.2,253.6 502.2,253.6 503.2,253.6 504.2,253.7 505.2,253.7 506.2,253.7 507.2,253.8 508.2,253.8 509.2,253.9 510.2,253.9 511.2,253.9 512.2,254 513.2,254 514.2,254.1 515.2,254.1 516.2,254.2 517.2,254.2 518.2,254.2 519.2,254.3 520.2,254.3 521.2,254.4 522.2,254.4 523.2,254.5 524.2,254.5 525.2,254.5 526.2,254.6 527.2,254.6 528.2,254.7 529.2,254.7 530.2,254.8 531.2,254.8 532.2,254.8 533.2,254.9 534.2,254.9 535.2,255 536.2,255 537.2,255 538.2,255.1 539.2,255.1 540.2,255.1 541.2,255.2 542.2,255.2 543.2,255.2 544.2,255.3 545.2,255.3 546.2,255.3 547.2,255.3 548.2,255.4 549.2,255.4 550.2,255.4 551.2,255.5 552.2,255.5 553.2,255.5 554.2,255.6 555.2,255.6 556.2,255.6 557.2,255.7 558.2,255.7 559.2,255.7 560.2,255.8 561.2,255.8 562.2,255.8 563.2,255.8 564.2,255.9 565.2,255.9 566.2,255.9 567.2,256 568.2,256 569.2,256 570.2,256.1 571.2,256.1 572.2,256.1 573.2,256.2 574.2,256.2 575.2,256.2 576.2,256.3 577.2,256.3 578.2,256.3 579.2,256.4 580.2,256.4 581.2,256.4 582.2,256.4 583.2,256.5 584.2,256.5 585.2,256.5 586.2,256.6 587.2,256.6 588.2,256.6 589.2,256.7 590.2,256.7 591.2,256.7 592.2,256.8 593.2,256.8 594.2,256.8 595.2,256.9 596.2,256.9 597.2,256.9 598.2,256.9 599.2,257 600.2,257 601.2,257 602.2,257.1 603.2,257.1 604.2,257.1 605.2,257.1 606.2,257.2 607.2,257.2 608.2,257.2 609.2,257.2 610.2,257.3 611.2,257.3 612.2,257.3 613.2,257.3 614.2,257.4 615.2,257.4 616.2,257.4 617.2,257.4 618.2,257.5 619.2,257.5 620.2,257.5 621.2,257.5 622.2,257.6 623.2,257.6 624.2,257.6 625.2,257.6 626.2,257.7 627.2,257.7 628.2,257.7 629.2,257.7 630.2,257.8 631.2,257.8 632.2,257.8 633.2,257.8 634.2,257.9 635.2,257.9 636.2,257.9 637.2,257.9 638.2,257.9 639.2,258 640.2,258 641.2,258 642.2,258 643.2,258 644.2,258 645.2,258 646.2,258 647.2,258 648.2,258 649.2,258 650.2,258 651.2,258 652.2,258 653.2,258 654.2,258 655.2,258 656.2,258 657.2,258 658.2,258 659.2,258 660.2,258 661.2,258 662.2,258 663.2,258 664.2,258 665.2,258 666.2,258 667.2,258 668.2,258 669.2,258 670.2,258 671.2,258 672.2,258 673.2,258 674.2,258 675.2,258 676.2,258 677.2,258 678.2,258 679.2,258 680.2,258 681.2,258 682.2,258 683.2,258 684.2,258 685.2,258 686.2,258 687.2,258 688.2,258 689.2,258 689.6,258" stroke="#c8c8c8" stroke-width="1.0" />
<path d="M501.2,253.6 502.2,253.6 503.2,253.6 504.2,253.7 505.2,253.7 506.2,253.7 507.2,253.8 508.2,253.8 509.2,253.9 510.2,253.9 511.2,253.9 512.2,254 513.2,254 514.2,254.1 515.2,254.1 516.2,254.2 517.2,254.2 518.2,254.2 519.2,254.3 520.2,254.3 521.2,254.4 522.2,254.4 523.2,254.5 524.2,254.5 525.2,254.5 526.2,254.6 527.2,254.6 528.2,254.7 529.2,254.7 530.2,254.7 531.2,254.8 532.2,254.8 533.2,254.9 534.2,254.9 535.2,254.9 536.2,255 537.2,255 538.2,255 539.2,255 540.2,255 541.2,255 542.2,255 543.2,254.9 544.2,254.9 545.2,254.8 546.2,254.8 547.2,254.7 548.2,254.5 549.2,254.4 550.2,254.2 551.2,254 552.2,253.7 553.2,253.4 554.2,253.1 555.2,252.7 556.2,252.3 557.2,251.8 558.2,251.3 559.2,250.8 560.2,250.2 561.2,249.6 562.2,248.9 563.2,248.3 564.2,247.6 565.2,247 566.2,246.4 567.2,245.8 568.2,245.2 569.2,244.7 570.2,244.3 571.2,243.9 572.2,243.6 573.2,243.4 574.2,243.3 575.2,243.3 576.2,243.4 577.2,243.6 578.2,243.9 579.2,244.2 580.2,244.7 581.2,245.2 582.2,245.8 583.2,246.4 584.2,247.1 585.2,247.8 586.2,248.5 587.2,249.2 588.2,249.9 589.2,250.6 590.2,251.2 591.2,251.9 592.2,252.5 593.2,253 594.2,253.6 595.2,254 596.2,254.5 597.2,254.9 598.2,255.2 599.2,255.5 600.2,255.8 601.2,256 602.2,256.3 603.2,256.4 604.2,256.6 605.2,256.7 606.2,256.8 607.2,256.9 608.2,257 609.2,257.1 610.2,257.1 611.2,257.2 612.2,257.2 613.2,257.3 614.2,257.3 615.2,257.4 616.2,257.4 617.2,257.4 618.2,257.4 619.2,257.5 620.2,257.5 621.2,257.5 622.2,257.6 623.2,257.6 624.2,257.6 625.2,257.6 626.2,257.7 627.2,257.7 628.2,257.7 629.2,257.7 630.2,257.8 631.2,257.8 632.2,257.8 633.2,257.8 634.2,257.9 635.2,257.9 636.2,257.9 637.2,257.9 638.2,257.9 639.2,258 640.2,258 641.2,258 642.2,258 643.2,258 644.2,258 645.2,258 646.2,258 647.2,258 648.2,258 649.2,258 650.2,258 651.2,258 652.2,258 653.2,258 654.2,258 655.2,258 656.2,258 657.2,258 658.2,258 659.2,258 660.2,258 661.2,258 662.2,258 663.2,258 664.2,258 665.2,258 666.2,258 667.2,258 668.2,258 669.2,258 670.2,258 671.2,258 672.2,258 673.2,258 674.2,258 675.2,258 676.2,258 677.2,258 678.2,258 679.2,258 680.2,258 681.2,258 682.2,258 683.2,258 684.2,258 685.2,258 686.2,258 687.2,258 688.2,258 689.2,258 689.6,258" stroke="#f21d1d" stroke-width="1.2" />
<path d="M501.2,253.6 502.2,253.6 503.2,253.6 504.2,253.7 505.2,253.7 506.2,253.7 507.2,253.8 508.2,253.8 509.2,253.9 510.2,253.9 511.2,253.9 512.2,254 513.2,254 514.2,254.1 515.2,254.1 516.2,254.2 517.2,254.2 518.2,254.2 519.2,254.3 520.2,254.3 521.2,254.4 522.2,254.4 523.2,254.5 524.2,254.5 525.2,254.5 526.2,254.6 527.2,254.6 528.2,254.7 529.2,254.7 530.2,254.8 531.2,254.8 532.2,254.8 533.2,254.9 534.2,254.9 535.2,255 536.2,255 537.2,255 538.2,255.1 539.2,255.1 540.2,255.1 541.2,255.2 542.2,255.2 543.2,255.2 544.2,255.3 545.2,255.3 546.2,255.3 547.2,255.3 548.2,255.4 549.2,255.4 550.2,255.4 551.2,255.5 552.2,255.5 553.2,255.5 554.2,255.5 555.2,255.5 556.2,255.5 557.2,255.5 558.2,255.5 559.2,255.5 560.2,255.5 561.2,255.4 562.2,255.3 563.2,255.2 564.2,255 565.2,254.8 566.2,254.5 567.2,254.2 568.2,253.7 569.2,253.2 570.2,252.5 571.2,251.7 572.2,250.8 573.2,249.7 574.2,248.5 575.2,247 576.2,245.4 577.2,243.6 578.2,241.5 579.2,239.3 580.2,236.9 581.2,234.4 582.2,231.7 583.2,228.9 584.2,226 585.2,223.1 586.2,220.2 587.2,217.4 588.2,214.7 589.2,212.2 590.2,210 591.2,208 592.2,206.3 593.2,205.1 594.2,204.2 595.2,203.7 596.2,203.7 597.2,204.1 598.2,205 599.2,206.3 600.2,207.9 601.2,209.9 602.2,212.1 603.2,214.7 604.2,217.4 605.2,220.2 606.2,223.1 607.2,226.1 608.2,229 609.2,231.9 610.2,234.7 611.2,237.3 612.2,239.8 613.2,242.1 614.2,244.2 615.2,246.1 616.2,247.9 617.2,249.4 618.2,250.8 619.2,251.9 620.2,253 621.2,253.8 622.2,254.6 623.2,255.2 624.2,255.7 625.2,256.1 626.2,256.5 627.2,256.8 628.2,257 629.2,257.2 630.2,257.4 631.2,257.5 632.2,257.6 633.2,257.7 634.2,257.7 635.2,257.8 636.2,257.8 637.2,257.9 638.2,257.9 639.2,257.9 640.2,258 641.2,258 642.2,258 643.2,258 644.2,258 645.2,258 646.2,258 647.2,258 648.2,258 649.2,258 650.2,258 651.2,258 652.2,258 653.2,258 654.2,258 655.2,258 656.2,258 657.2,258 658.2,258 659.2,258 660.2,258 661.2,258 662.2,258 663.2,258 664.2,258 665.2,258 666.2,258 667.2,258 668.2,258 669.2,258 670.2,258 671.2,258 672.2,258 673.2,258 674.2,258 675.2,258 676.2,258 677.2,258 678.2,258 679.2,258 680.2,258 681.2,258 682.2,258 683.2,258 684.2,258 685.2,258 686.2,258 687.2,258 688.2,258 689.2,258 689.6,258" stroke="#13a53a" stroke-width="1.2" />
<path d="M501.2,253.6 502.2,253.6 503.2,253.6 504.2,253.7 505.2,253.7 506.2,253.7 507.2,253.8 508.2,253.8 509.2,253.9 510.2,253.9 511.2,253.9 512.2,254 513.2,254 514.2,254.1 515.2,254.1 516.2,254.2 517.2,254.2 518.2,254.2 519.2,254.3 520.2,254.3 521.2,254.4 522.2,254.4 523.2,254.5 524.2,254.5 525.2,254.5 526.2,254.6 527.2,254.6 528.2,254.7 529.2,254.7 530.2,254.8 531.2,254.8 532.2,254.8 533.2,254.9 534.2,254.9 535.2,255 536.2,255 537.2,255 538.2,255.1 539.2,255.1 540.2,255.1 541.2,255.2 542.2,255.2 543.2,255.2 544.2,255.3 545.2,255.3 546.2,255.3 547.2,255.3 548.2,255.4 549.2,255.4 550.2,255.4 551.2,255.5 552.2,255.5 553.2,255.5 554.2,255.6 555.2,255.6 556.2,255.6 557.2,255.7 558.2,255.7 559.2,255.7 560.2,255.8 561.2,255.8 562.2,255.8 563.2,255.8 564.2,255.9 565.2,255.9 566.2,255.9 567.2,256 568.2,256 569.2,256 570.2,256.1 571.2,256.1 572.2,256.1 573.2,256.2 574.2,256.2 575.2,256.2 576.2,256.3 577.2,256.3 578.2,256.3 579.2,256.3 580.2,256.4 581.2,256.4 582.2,256.4 583.2,256.5 584.2,256.5 585.2,256.5 586.2,256.6 587.2,256.6 588.2,256.6 589.2,256.6 590.2,256.6 591.2,256.6 592.2,256.6 593.2,256.6 594.2,256.5 595.2,256.3 596.2,256 597.2,255.7 598.2,255.2 599.2,254.5 600.2,253.7 601.2,252.6 602.2,251.2 603.2,249.6 604.2,247.7 605.2,245.6 606.2,243.2 607.2,240.8 608.2,238.4 609.2,236 610.2,233.9 611.2,232.1 612.2,230.7 613.2,229.8 614.2,229.6 615.2,229.9 616.2,230.8 617.2,232.2 618.2,234.1 619.2,236.3 620.2,238.7 621.2,241.2 622.2,243.6 623.2,246 624.2,248.2 625.2,250.1 626.2,251.8 627.2,253.2 628.2,254.4 629.2,255.3 630.2,256 631.2,256.6 632.2,257 633.2,257.3 634.2,257.5 635.2,257.6 636.2,257.8 637.2,257.8 638.2,257.9 639.2,257.9 640.2,258 641.2,258 642.2,258 643.2,258 644.2,258 645.2,258 646.2,258 647.2,258 648.2,258 649.2,258 650.2,258 651.2,258 652.2,258 653.2,258 654.2,258 655.2,258 656.2,258 657.2,258 658.2,258 659.2,258 660.2,258 661.2,258 662.2,258 663.2,258 664.2,258 665.2,258 666.2,258 667.2,258 668.2,258 669.2,258 670.2,258 671.2,258 672.2,258 673.2,258 674.2,258 675.2,258 676.2,258 677.2,258 678.2,258 679.2,258 680.2,258 681.2,258 682.2,258 683.2,258 684.2,258 685.2,258 686.2,258 687.2,258 688.2,258 689.2,258 689.6,258" stroke="#1f1ff5" stroke-width="1.2" />
<path d="M501.2,253.6 502.2,253.7 503.2,253.5 504.2,253.8 505.2,254.1 506.2,254.3 507.2,254.5 508.2,254.3 509.2,254.2 510.2,254.5 511.2,254.3 512.2,254.2 513.2,254.9 514.2,254.5 515.2,254.7 516.2,254.9 517.2,254.5 518.2,255 519.2,255 520.2,254.8 521.2,255 522.2,254.7 523.2,254.3 524.2,254.9 525.2,254.7 526.2,255.2 527.2,255.1 528.2,254.8 529.2,255 530.2,255.4 531.2,255.3 532.2,255.1 533.2,255.1 534.2,254.9 535.2,255 536.2,255.2 537.2,254.9 538.2,254.9 539.2,254.4 540.2,254.1 541.2,253.8 542.2,254 543.2,254.2 544.2,253.9 545.2,253 546.2,252.6 547.2,252.9 548.2,252.6 549.2,251.8 550.2,252.2 551.2,251.7 552.2,251.8 553.2,251.2 554.2,251.1 555.2,250.6 556.2,249.9 557.2,249.7 558.2,249.2 559.2,249.2 560.2,248.2 561.2,247.4 562.2,247.3 563.2,246.6 564.2,245.8 565.2,244.7 566.2,242.9 567.2,241.9 568.2,240.6 569.2,239.3 570.2,237.3 571.2,236.5 572.2,235.2 573.2,233.6 574.2,232.6 575.2,231.6 576.2,229.9 577.2,228.8 578.2,227.4 579.2,225.8 580.2,224.2 581.2,221.9 582.2,219.7 583.2,216.4 584.2,213.5 585.2,211.5 586.2,208.9 587.2,207.3 588.2,205.7 589.2,203.8 590.2,202.4 591.2,201.3 592.2,200.3 593.2,199.1 594.2,198.8 595.2,199.3 596.2,198.8 597.2,198.1 598.2,198.4 599.2,199.1 600.2,199.4 601.2,200.6 602.2,201.4 603.2,202.4 604.2,202.8 605.2,204.2 606.2,205.5 607.2,205.8 608.2,207.5 609.2,208.5 610.2,209.7 611.2,210.8 612.2,211.9 613.2,213.6 614.2,215.8 615.2,218.1 616.2,220.9 617.2,223.9 618.2,227.1 619.2,229.8 620.2,232.7 621.2,236 622.2,239 623.2,241.7 624.2,244 625.2,246.7 626.2,248.5 627.2,250.7 628.2,252 629.2,253.7 630.2,255 631.2,255.8 632.2,256.8 633.2,256.6 634.2,256.7 635.2,257.9 636.2,258.4 637.2,258.6 638.2,258.4 639.2,258.5 640.2,258.4 641.2,258 642.2,258.2 643.2,258.5 644.2,258.2 645.2,258.9 646.2,258 647.2,258.3 648.2,258.7 649.2,258.2 650.2,258.1 651.2,258 652.2,258.2 653.2,258.8 654.2,258.5 655.2,258.6 656.2,258.3 657.2,258.6 658.2,258.4 659.2,258.2 660.2,258.3 661.2,258.5 662.2,258.7 663.2,258.4 664.2,258.5 665.2,259 666.2,258.2 667.2,258.1 668.2,258.7 669.2,258.5 670.2,258.4 671.2,258.5 672.2,258.3 673.2,258.6 674.2,258.3 675.2,258.6 676.2,258.1 677.2,258.2 678.2,258.4 679.2,258.3 680.2,258.6 681.2,258.4 682.2,258.3 683.2,258.5 684.2,258.3 685.2,258 686.2,258.1 687.2,258.2 688.2,258.3 689.2,258.4 689.6,258.7" stroke="#9e1a1a" stroke-width="1.4" />
<path d="M501.2,331.7 502.2,331.7 503.2,331.7 504.2,331.7 505.2,331.8 506.2,331.8 507.2,331.8 508.2,331.9 509.2,331.9 510.2,331.9 511.2,332 512.2,332 513.2,332.1 514.2,332.1 515.2,332.1 516.2,332.2 517.2,332.2 518.2,332.2 519.2,332.3 520.2,332.3 521.2,332.3 522.2,332.4 523.2,332.4 524.2,332.5 525.2,332.5 526.2,332.5 527.2,332.6 528.2,332.6 529.2,332.6 530.2,332.7 531.2,332.7 532.2,332.7 533.2,332.8 534.2,332.8 535.2,332.9 536.2,332.9 537.2,332.9 538.2,333 539.2,333 540.2,333 541.2,333.1 542.2,333.1 543.2,333.1 544.2,333.2 545.2,333.2 546.2,333.3 547.2,333.3 548.2,333.3 549.2,333.4 550.2,333.4 551.2,333.4 552.2,333.5 553.2,333.5 554.2,333.5 555.2,333.5 556.2,333.5 557.2,333.5 558.2,333.5 559.2,333.6 560.2,333.6 561.2,333.6 562.2,333.6 563.2,333.6 564.2,333.6 565.2,333.6 566.2,333.6 567.2,333.6 568.2,333.6 569.2,333.7 570.2,333.7 571.2,333.7 572.2,333.7 573.2,333.7 574.2,333.7 575.2,333.7 576.2,333.7 577.2,333.7 578.2,333.7 579.2,333.7 580.2,333.8 581.2,333.8 582.2,333.8 583.2,333.8 584.2,333.8 585.2,333.8 586.2,333.8 587.2,333.8 588.2,333.8 589.2,333.8 590.2,333.8 591.2,333.9 592.2,333.9 593.2,333.9 594.2,333.9 595.2,333.9 596.2,333.9 597.2,333.9 598.2,333.9 599.2,333.9 600.2,333.9 601.2,333.9 602.2,334 603.2,334 604.2,334 605.2,334 606.2,334 607.2,334 608.2,334 609.2,334 610.2,334 611.2,334 612.2,334 613.2,334.1 614.2,334.1 615.2,334.1 616.2,334.1 617.2,334.1 618.2,334.1 619.2,334.1 620.2,334.1 621.2,334.1 622.2,334.1 623.2,334.1 624.2,334.2 625.2,334.2 626.2,334.2 627.2,334.2 628.2,334.2 629.2,334.2 630.2,334.2 631.2,334.2 632.2,334.2 633.2,334.2 634.2,334.2 635.2,334.3 636.2,334.3 637.2,334.3 638.2,334.3 639.2,334.3 640.2,334.3 641.2,334.3 642.2,334.3 643.2,334.3 644.2,334.3 645.2,334.3 646.2,334.3 647.2,334.3 648.2,334.3 649.2,334.3 650.2,334.3 651.2,334.3 652.2,334.3 653.2,334.3 654.2,334.3 655.2,334.3 656.2,334.3 657.2,334.3 658.2,334.3 659.2,334.3 660.2,334.3 661.2,334.3 662.2,334.3 663.2,334.3 664.2,334.3 665.2,334.3 666.2,334.3 667.2,334.3 668.2,334.3 669.2,334.3 670.2,334.3 671.2,334.3 672.2,334.3 673.2,334.3 674.2,334.3 675.2,334.3 676.2,334.3 677.2,334.3 678.2,334.3 679.2,334.3 680.2,334.3 681.2,334.3 682.2,334.3 683.2,334.3 684.2,334.3 685.2,334.3 686.2,334.3 687.2,334.3 688.2,334.3 689.2,334.3 689.6,334.3" stroke="#c8c8c8" stroke-width="1.0" />
<path d="M501.2,331.7 502.2,331.7 503.2,331.7 504.2,331.7 505.2,331.8 506.2,331.8 507.2,331.8 508.2,331.9 509.2,331.9 510.2,331.9 511.2,332 512.2,332 513.2,332.1 514.2,332.1 515.2,332.1 516.2,332.2 517.2,332.2 518.2,332.2 519.2,332.3 520.2,332.3 521.2,332.3 522.2,332.4 523.2,332.4 524.2,332.5 525.2,332.5 526.2,332.5 527.2,332.6 528.2,332.6 529.2,332.6 530.2,332.7 531.2,332.7 532.2,332.7 533.2,332.8 534.2,332.8 535.2,332.9 536.2,332.9 537.2,332.9 538.2,333 539.2,333 540.2,333 541.2,333.1 542.2,333.1 543.2,333.1 544.2,333.2 545.2,333.2 546.2,333.3 547.2,333.3 548.2,333.3 549.2,333.4 550.2,333.4 551.2,333.4 552.2,333.4 553.2,333.4 554.2,333.4 555.2,333.4 556.2,333.4 557.2,333.4 558.2,333.4 559.2,333.4 560.2,333.3 561.2,333.2 562.2,333.1 563.2,333 564.2,332.9 565.2,332.7 566.2,332.5 567.2,332.2 568.2,331.9 569.2,331.6 570.2,331.1 571.2,330.6 572.2,330 573.2,329.4 574.2,328.6 575.2,327.7 576.2,326.8 577.2,325.7 578.2,324.5 579.2,323.2 580.2,321.9 581.2,320.4 582.2,318.9 583.2,317.3 584.2,315.6 585.2,313.9 586.2,312.2 587.2,310.6 588.2,308.9 589.2,307.4 590.2,305.9 591.2,304.6 592.2,303.4 593.2,302.4 594.2,301.5 595.2,300.9 596.2,300.5 597.2,300.3 598.2,300.4 599.2,300.7 600.2,301.2 601.2,301.9 602.2,302.8 603.2,303.9 604.2,305.2 605.2,306.6 606.2,308.2 607.2,309.8 608.2,311.4 609.2,313.1 610.2,314.8 611.2,316.5 612.2,318.2 613.2,319.8 614.2,321.3 615.2,322.8 616.2,324.1 617.2,325.4 618.2,326.5 619.2,327.6 620.2,328.5 621.2,329.3 622.2,330.1 623.2,330.8 624.2,331.3 625.2,331.8 626.2,332.2 627.2,332.6 628.2,332.9 629.2,333.2 630.2,333.4 631.2,333.6 632.2,333.7 633.2,333.8 634.2,333.9 635.2,334 636.2,334.1 637.2,334.1 638.2,334.2 639.2,334.2 640.2,334.2 641.2,334.3 642.2,334.3 643.2,334.3 644.2,334.3 645.2,334.3 646.2,334.3 647.2,334.3 648.2,334.3 649.2,334.3 650.2,334.3 651.2,334.3 652.2,334.3 653.2,334.3 654.2,334.3 655.2,334.3 656.2,334.3 657.2,334.3 658.2,334.3 659.2,334.3 660.2,334.3 661.2,334.3 662.2,334.3 663.2,334.3 664.2,334.3 665.2,334.3 666.2,334.3 667.2,334.3 668.2,334.3 669.2,334.3 670.2,334.3 671.2,334.3 672.2,334.3 673.2,334.3 674.2,334.3 675.2,334.3 676.2,334.3 677.2,334.3 678.2,334.3 679.2,334.3 680.2,334.3 681.2,334.3 682.2,334.3 683.2,334.3 684.2,334.3 685.2,334.3 686.2,334.3 687.2,334.3 688.2,334.3 689.2,334.3 689.6,334.3" stroke="#13a53a" stroke-width="1.2" />
<path d="M501.2,331.7 502.2,331.7 503.2,331.7 504.2,331.7 505.2,331.8 506.2,331.8 507.2,331.8 508.2,331.9 509.2,331.9 510.2,331.9 511.2,332 512.2,332 513.2,332.1 514.2,332.1 515.2,332.1 516.2,332.2 517.2,332.2 518.2,332.2 519.2,332.3 520.2,332.3 521.2,332.3 522.2,332.4 523.2,332.4 524.2,332.5 525.2,332.5 526.2,332.5 527.2,332.6 528.2,332.6 529.2,332.6 530.2,332.7 531.2,332.7 532.2,332.7 533.2,332.8 534.2,332.8 535.2,332.9 536.2,332.9 537.2,332.9 538.2,333 539.2,333 540.2,333 541.2,333.1 542.2,333.1 543.2,333.1 544.2,333.2 545.2,333.2 546.2,333.3 547.2,333.3 548.2,333.3 549.2,333.4 550.2,333.4 551.2,333.4 552.2,333.5 553.2,333.5 554.2,333.5 555.2,333.5 556.2,333.5 557.2,333.5 558.2,333.5 559.2,333.6 560.2,333.6 561.2,333.6 562.2,333.6 563.2,333.6 564.2,333.6 565.2,333.6 566.2,333.6 567.2,333.6 568.2,333.6 569.2,333.6 570.2,333.6 571.2,333.6 572.2,333.6 573.2,333.5 574.2,333.5 575.2,333.4 576.2,333.3 577.2,333.3 578.2,333.1 579.2,333 580.2,332.8 581.2,332.6 582.2,332.3 583.2,332 584.2,331.6 585.2,331.1 586.2,330.6 587.2,329.9 588.2,329.2 589.2,328.3 590.2,327.4 591.2,326.3 592.2,325.1 593.2,323.8 594.2,322.4 595.2,320.8 596.2,319.2 597.2,317.4 598.2,315.5 599.2,313.6 600.2,311.6 601.2,309.6 602.2,307.5 603.2,305.5 604.2,303.5 605.2,301.7 606.2,299.9 607.2,298.3 608.2,296.8 609.2,295.5 610.2,294.5 611.2,293.7 612.2,293.2 613.2,292.9 614.2,292.9 615.2,293.2 616.2,293.7 617.2,294.6 618.2,295.6 619.2,296.9 620.2,298.4 621.2,300 622.2,301.8 623.2,303.7 624.2,305.7 625.2,307.7 626.2,309.8 627.2,311.8 628.2,313.9 629.2,315.8 630.2,317.7 631.2,319.5 632.2,321.2 633.2,322.8 634.2,324.2 635.2,325.5 636.2,326.7 637.2,327.8 638.2,328.8 639.2,329.6 640.2,330.4 641.2,331 642.2,331.6 643.2,332.1 644.2,332.5 645.2,332.8 646.2,333.1 647.2,333.4 648.2,333.5 649.2,333.7 650.2,333.8 651.2,333.9 652.2,334 653.2,334.1 654.2,334.1 655.2,334.2 656.2,334.2 657.2,334.2 658.2,334.2 659.2,334.3 660.2,334.3 661.2,334.3 662.2,334.3 663.2,334.3 664.2,334.3 665.2,334.3 666.2,334.3 667.2,334.3 668.2,334.3 669.2,334.3 670.2,334.3 671.2,334.3 672.2,334.3 673.2,334.3 674.2,334.3 675.2,334.3 676.2,334.3 677.2,334.3 678.2,334.3 679.2,334.3 680.2,334.3 681.2,334.3 682.2,334.3 683.2,334.3 684.2,334.3 685.2,334.3 686.2,334.3 687.2,334.3 688.2,334.3 689.2,334.3 689.6,334.3" stroke="#1f1ff5" stroke-width="1.2" />
<path d="M501.2,331.7 502.2,331.7 503.2,331.7 504.2,331.7 505.2,331.8 506.2,331.8 507.2,331.8 508.2,331.9 509.2,331.9 510.2,331.9 511.2,332 512.2,332 513.2,332.1 514.2,332.1 515.2,332.1 516.2,332.2 517.2,332.2 518.2,332.2 519.2,332.3 520.2,332.3 521.2,332.3 522.2,332.4 523.2,332.4 524.2,332.5 525.2,332.5 526.2,332.5 527.2,332.6 528.2,332.6 529.2,332.6 530.2,332.7 531.2,332.7 532.2,332.7 533.2,332.8 534.2,332.8 535.2,332.9 536.2,332.9 537.2,332.9 538.2,333 539.2,333 540.2,333 541.2,333.1 542.2,333.1 543.2,333.1 544.2,333.2 545.2,333.2 546.2,333.3 547.2,333.3 548.2,333.3 549.2,333.4 550.2,333.4 551.2,333.4 552.2,333.4 553.2,333.4 554.2,333.5 555.2,333.5 556.2,333.4 557.2,333.4 558.2,333.4 559.2,333.4 560.2,333.3 561.2,333.2 562.2,333.2 563.2,333 564.2,332.9 565.2,332.7 566.2,332.5 567.2,332.3 568.2,332 569.2,331.6 570.2,331.2 571.2,330.7 572.2,330.1 573.2,329.4 574.2,328.6 575.2,327.7 576.2,326.7 577.2,325.6 578.2,324.4 579.2,323 580.2,321.5 581.2,319.9 582.2,318.1 583.2,316.3 584.2,314.3 585.2,312.3 586.2,310.1 587.2,307.9 588.2,305.6 589.2,303.3 590.2,301 591.2,298.7 592.2,296.4 593.2,294.2 594.2,292 595.2,289.9 596.2,287.9 597.2,286.1 598.2,284.3 599.2,282.7 600.2,281.3 601.2,280.1 602.2,279 603.2,278.1 604.2,277.5 605.2,277 606.2,276.7 607.2,276.7 608.2,276.9 609.2,277.3 610.2,277.9 611.2,278.8 612.2,279.8 613.2,281.1 614.2,282.6 615.2,284.2 616.2,286 617.2,288 618.2,290.1 619.2,292.3 620.2,294.6 621.2,297 622.2,299.4 623.2,301.9 624.2,304.3 625.2,306.7 626.2,309.1 627.2,311.4 628.2,313.6 629.2,315.7 630.2,317.7 631.2,319.5 632.2,321.3 633.2,322.9 634.2,324.4 635.2,325.7 636.2,326.9 637.2,328 638.2,328.9 639.2,329.8 640.2,330.5 641.2,331.2 642.2,331.7 643.2,332.2 644.2,332.6 645.2,332.9 646.2,333.2 647.2,333.4 648.2,333.6 649.2,333.7 650.2,333.8 651.2,333.9 652.2,334 653.2,334.1 654.2,334.1 655.2,334.2 656.2,334.2 657.2,334.2 658.2,334.2 659.2,334.3 660.2,334.3 661.2,334.3 662.2,334.3 663.2,334.3 664.2,334.3 665.2,334.3 666.2,334.3 667.2,334.3 668.2,334.3 669.2,334.3 670.2,334.3 671.2,334.3 672.2,334.3 673.2,334.3 674.2,334.3 675.2,334.3 676.2,334.3 677.2,334.3 678.2,334.3 679.2,334.3 680.2,334.3 681.2,334.3 682.2,334.3 683.2,334.3 684.2,334.3 685.2,334.3 686.2,334.3 687.2,334.3 688.2,334.3 689.2,334.3 689.6,334.3" stroke="#9e1a1a" stroke-width="1.4" />
<path d="M506.7,201.8 L523.7,201.8" stroke="#f21d1d" stroke-width="1.6" />
<text transform="translate(526.6,205) scale(1,1.1)" font-size="7.8" stroke-width="0.4">OH</text>
<path d="M506.7,212 L523.7,212" stroke="#1f1ff5" stroke-width="1.6" />
<text transform="translate(526.6,215.2) scale(1,1.1)" font-size="7.8" >Mo-O</text>
<path d="M506.7,222.5 L523.7,222.5" stroke="#13a53a" stroke-width="1.6" />
<text transform="translate(526.6,225.7) scale(1,1.1)" font-size="7.8" >Al<tspan font-size="5.5" dy="2">2</tspan><tspan dy="-2">O</tspan><tspan font-size="5.5" dy="2">3</tspan></text>
<path d="M503,283 L521.3,283" stroke="#1f1ff5" stroke-width="1.6" />
<text transform="translate(523.7,286.2) scale(1,1.1)" font-size="7.8" >Mo-O</text>
<path d="M503,292.3 L521.3,292.3" stroke="#13a53a" stroke-width="1.6" />
<text transform="translate(523.7,295.5) scale(1,1.1)" font-size="7.8" >Al<tspan font-size="5.5" dy="2">2</tspan><tspan dy="-2">O</tspan><tspan font-size="5.5" dy="2">3</tspan></text>
</svg></body></html>
